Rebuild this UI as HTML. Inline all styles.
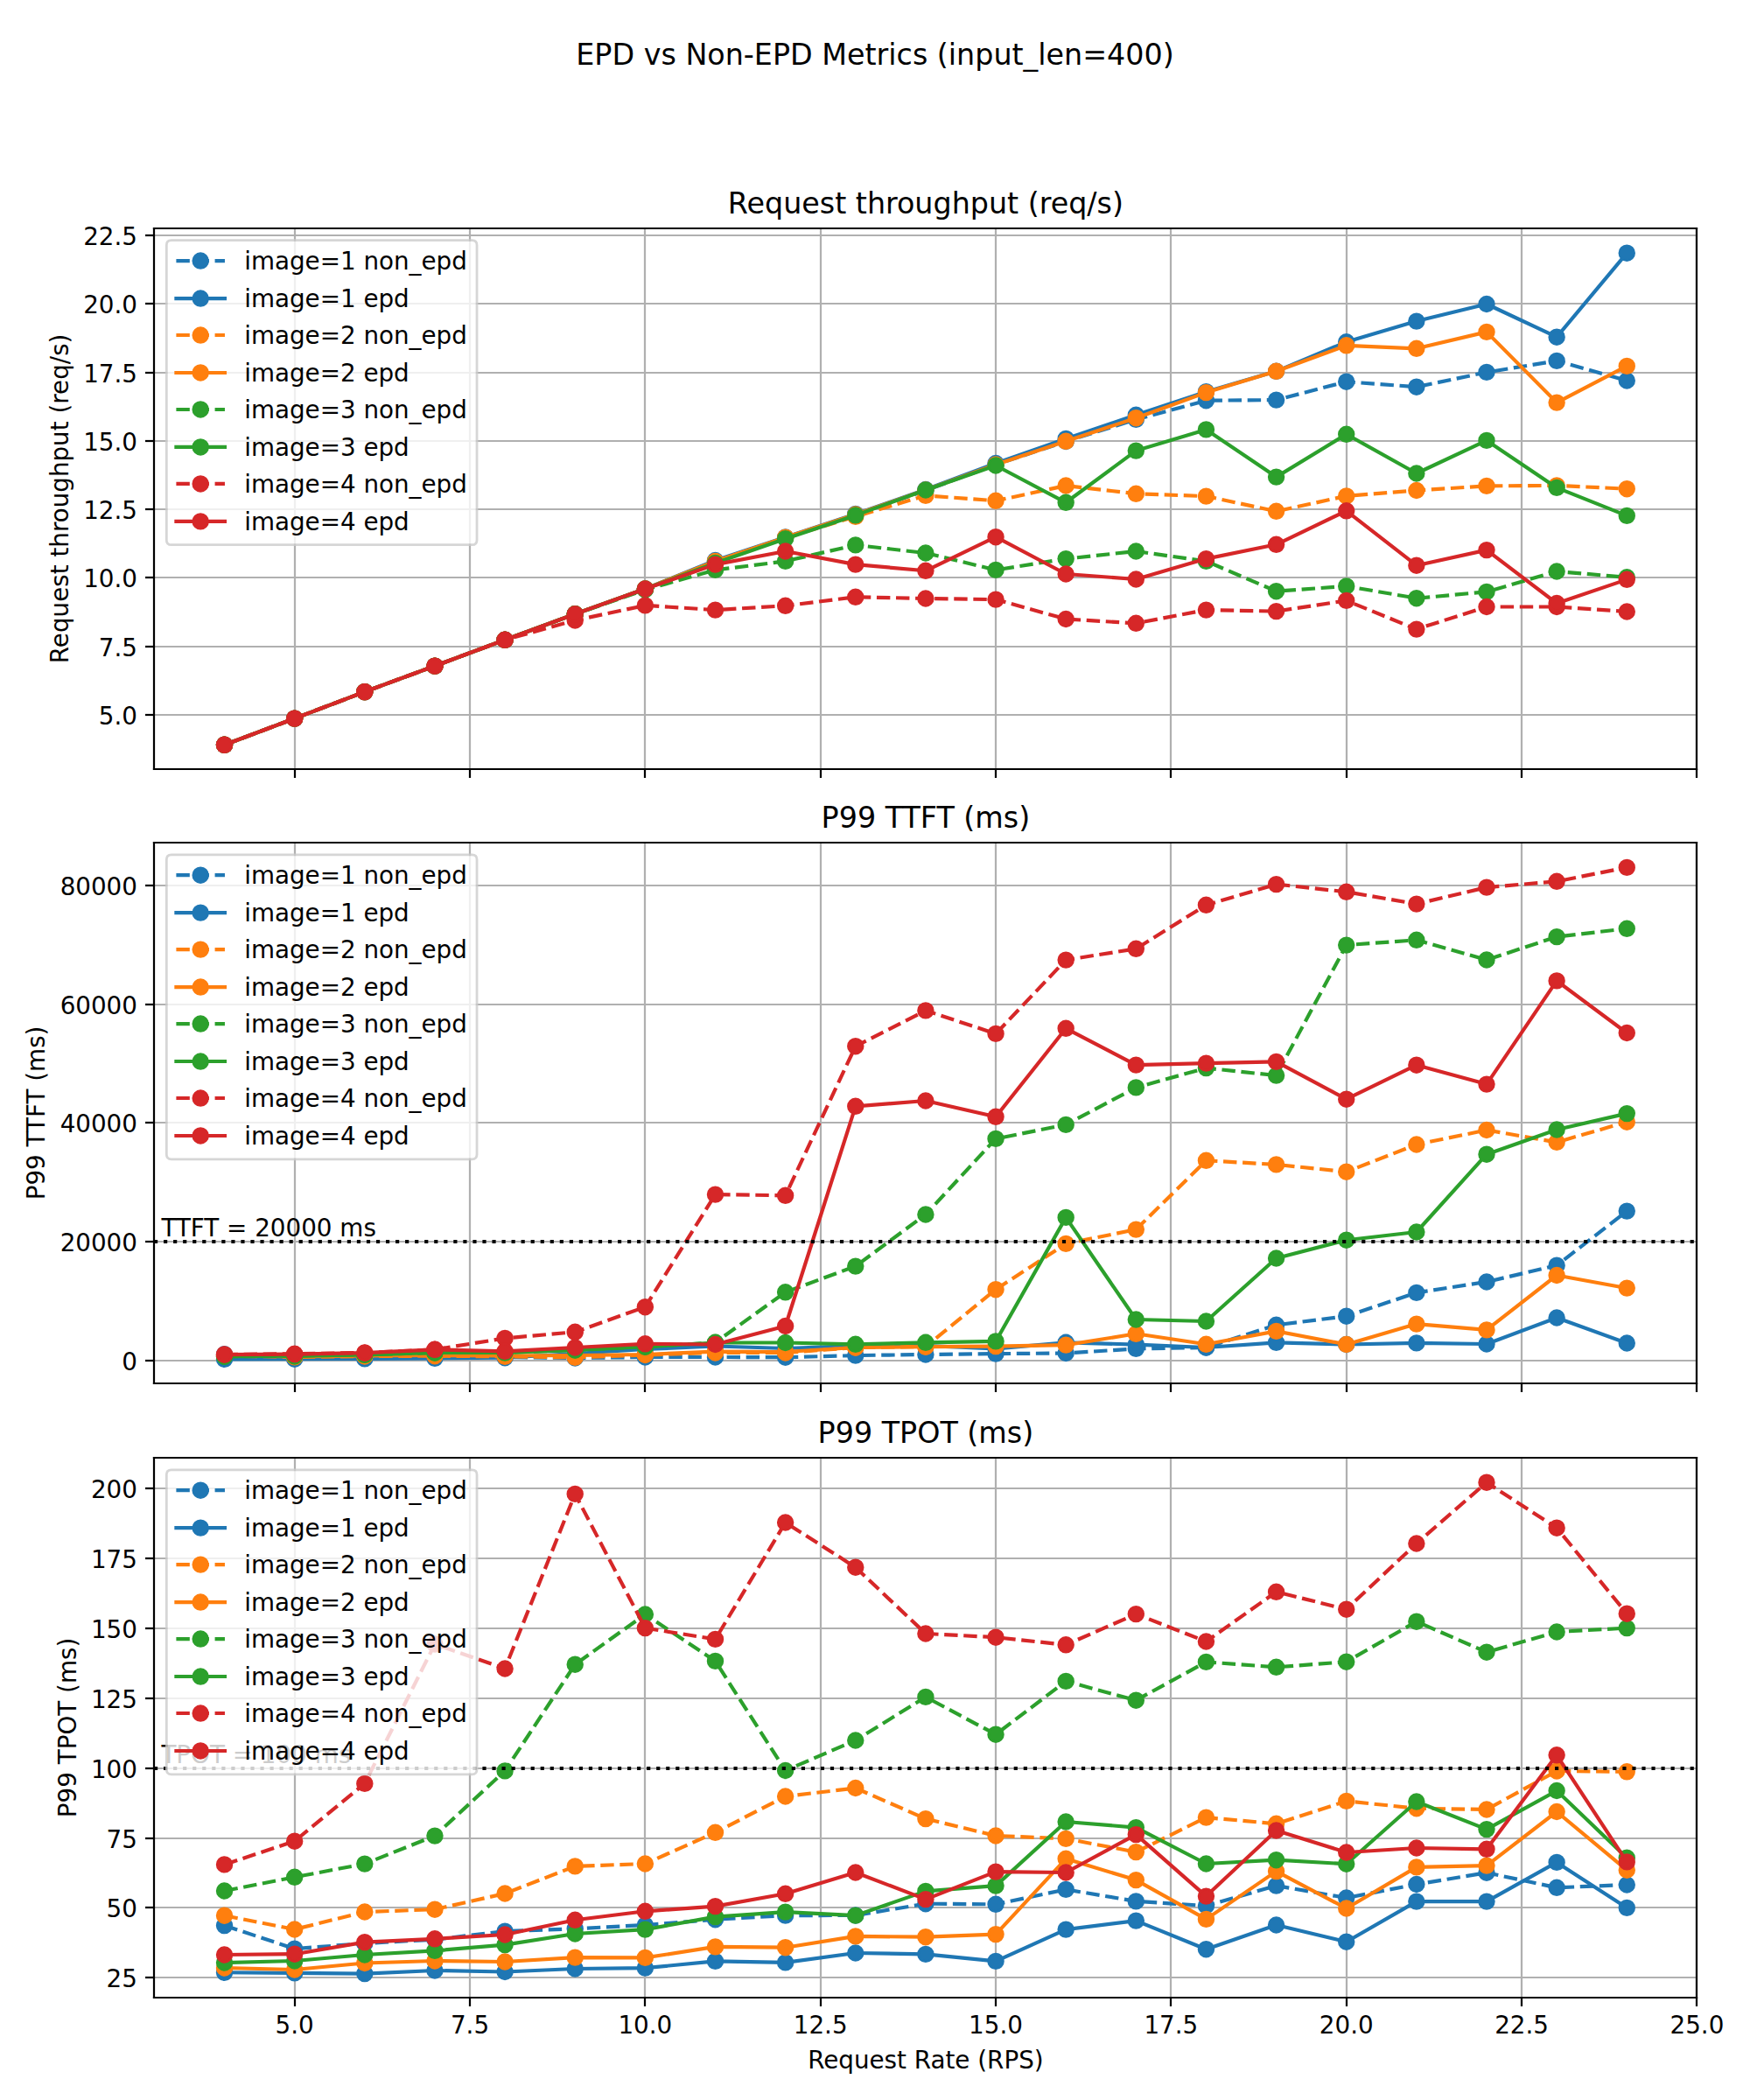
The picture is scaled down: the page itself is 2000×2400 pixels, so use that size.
<!DOCTYPE html>
<html><head><meta charset="utf-8"><title>EPD vs Non-EPD Metrics</title>
<style>html,body{margin:0;padding:0;background:#fff}svg{display:block}text{font-family:"DejaVu Sans","Liberation Sans",sans-serif}</style></head>
<body>
<svg width="2000" height="2400" viewBox="0 0 720 864" version="1.1">
 
 <defs>
  <style type="text/css">*{stroke-linejoin: round; stroke-linecap: butt}</style>
 </defs>
 <g id="figure_1">
  <g id="patch_1">
   <path d="M 0 864 
L 720 864 
L 720 0 
L 0 0 
z
" style="fill: #ffffff"/>
  </g>
  <g id="axes_1">
   <g id="patch_2">
    <path d="M 63.504 316.44 
L 698.184 316.44 
L 698.184 93.888 
L 63.504 93.888 
z
" style="fill: #ffffff"/>
   </g>
   <g id="matplotlib.axis_1">
    <g id="xtick_1">
     <g id="line2d_1">
      <path d="M 121.32 316.44 
L 121.32 93.96 
" clip-path="url(#pe213711e30)" style="fill: none; stroke: #b0b0b0; stroke-width: 0.8; stroke-linecap: square"/>
     </g>
     <g id="line2d_2">
      <defs>
       <path id="m36081f66a5" d="M 0 0 
L 0 3.6 
" style="stroke: #000000; stroke-width: 0.8"/>
      </defs>
      <g>
       <use href="#m36081f66a5" x="121.32" y="316.44" style="stroke: #000000; stroke-width: 0.8"/>
      </g>
     </g>
    </g>
    <g id="xtick_2">
     <g id="line2d_3">
      <path d="M 193.32 316.44 
L 193.32 93.96 
" clip-path="url(#pe213711e30)" style="fill: none; stroke: #b0b0b0; stroke-width: 0.8; stroke-linecap: square"/>
     </g>
     <g id="line2d_4">
      <g>
       <use href="#m36081f66a5" x="193.32" y="316.44" style="stroke: #000000; stroke-width: 0.8"/>
      </g>
     </g>
    </g>
    <g id="xtick_3">
     <g id="line2d_5">
      <path d="M 265.32 316.44 
L 265.32 93.96 
" clip-path="url(#pe213711e30)" style="fill: none; stroke: #b0b0b0; stroke-width: 0.8; stroke-linecap: square"/>
     </g>
     <g id="line2d_6">
      <g>
       <use href="#m36081f66a5" x="265.32" y="316.44" style="stroke: #000000; stroke-width: 0.8"/>
      </g>
     </g>
    </g>
    <g id="xtick_4">
     <g id="line2d_7">
      <path d="M 337.68 316.44 
L 337.68 93.96 
" clip-path="url(#pe213711e30)" style="fill: none; stroke: #b0b0b0; stroke-width: 0.8; stroke-linecap: square"/>
     </g>
     <g id="line2d_8">
      <g>
       <use href="#m36081f66a5" x="337.68" y="316.44" style="stroke: #000000; stroke-width: 0.8"/>
      </g>
     </g>
    </g>
    <g id="xtick_5">
     <g id="line2d_9">
      <path d="M 409.68 316.44 
L 409.68 93.96 
" clip-path="url(#pe213711e30)" style="fill: none; stroke: #b0b0b0; stroke-width: 0.8; stroke-linecap: square"/>
     </g>
     <g id="line2d_10">
      <g>
       <use href="#m36081f66a5" x="409.68" y="316.44" style="stroke: #000000; stroke-width: 0.8"/>
      </g>
     </g>
    </g>
    <g id="xtick_6">
     <g id="line2d_11">
      <path d="M 481.68 316.44 
L 481.68 93.96 
" clip-path="url(#pe213711e30)" style="fill: none; stroke: #b0b0b0; stroke-width: 0.8; stroke-linecap: square"/>
     </g>
     <g id="line2d_12">
      <g>
       <use href="#m36081f66a5" x="481.68" y="316.44" style="stroke: #000000; stroke-width: 0.8"/>
      </g>
     </g>
    </g>
    <g id="xtick_7">
     <g id="line2d_13">
      <path d="M 554.04 316.44 
L 554.04 93.96 
" clip-path="url(#pe213711e30)" style="fill: none; stroke: #b0b0b0; stroke-width: 0.8; stroke-linecap: square"/>
     </g>
     <g id="line2d_14">
      <g>
       <use href="#m36081f66a5" x="554.04" y="316.44" style="stroke: #000000; stroke-width: 0.8"/>
      </g>
     </g>
    </g>
    <g id="xtick_8">
     <g id="line2d_15">
      <path d="M 626.04 316.44 
L 626.04 93.96 
" clip-path="url(#pe213711e30)" style="fill: none; stroke: #b0b0b0; stroke-width: 0.8; stroke-linecap: square"/>
     </g>
     <g id="line2d_16">
      <g>
       <use href="#m36081f66a5" x="626.04" y="316.44" style="stroke: #000000; stroke-width: 0.8"/>
      </g>
     </g>
    </g>
    <g id="xtick_9">
     <g id="line2d_17">
      <path d="M 698.04 316.44 
L 698.04 93.96 
" clip-path="url(#pe213711e30)" style="fill: none; stroke: #b0b0b0; stroke-width: 0.8; stroke-linecap: square"/>
     </g>
     <g id="line2d_18">
      <g>
       <use href="#m36081f66a5" x="698.04" y="316.44" style="stroke: #000000; stroke-width: 0.8"/>
      </g>
     </g>
    </g>
   </g>
   <g id="matplotlib.axis_2">
    <g id="ytick_1">
     <g id="line2d_19">
      <path d="M 63.36 294.12 
L 698.04 294.12 
" clip-path="url(#pe213711e30)" style="fill: none; stroke: #b0b0b0; stroke-width: 0.8; stroke-linecap: square"/>
     </g>
     <g id="line2d_20">
      <defs>
       <path id="m27e57e332f" d="M 0 0 
L -3.6 0 
" style="stroke: #000000; stroke-width: 0.8"/>
      </defs>
      <g>
       <use href="#m27e57e332f" x="63.36" y="294.12" style="stroke: #000000; stroke-width: 0.8"/>
      </g>
     </g>
     <g id="text_1">
      <text style="font-size: 10px; font-family: 'DejaVu Sans', 'Liberation Sans', sans-serif; text-anchor: end" x="56.504" y="298.08">5.0</text>
     </g>
    </g>
    <g id="ytick_2">
     <g id="line2d_21">
      <path d="M 63.36 266.04 
L 698.04 266.04 
" clip-path="url(#pe213711e30)" style="fill: none; stroke: #b0b0b0; stroke-width: 0.8; stroke-linecap: square"/>
     </g>
     <g id="line2d_22">
      <g>
       <use href="#m27e57e332f" x="63.36" y="266.04" style="stroke: #000000; stroke-width: 0.8"/>
      </g>
     </g>
     <g id="text_2">
      <text style="font-size: 10px; font-family: 'DejaVu Sans', 'Liberation Sans', sans-serif; text-anchor: end" x="56.504" y="269.8974">7.5</text>
     </g>
    </g>
    <g id="ytick_3">
     <g id="line2d_23">
      <path d="M 63.36 237.6 
L 698.04 237.6 
" clip-path="url(#pe213711e30)" style="fill: none; stroke: #b0b0b0; stroke-width: 0.8; stroke-linecap: square"/>
     </g>
     <g id="line2d_24">
      <g>
       <use href="#m27e57e332f" x="63.36" y="237.6" style="stroke: #000000; stroke-width: 0.8"/>
      </g>
     </g>
     <g id="text_3">
      <text style="font-size: 10px; font-family: 'DejaVu Sans', 'Liberation Sans', sans-serif; text-anchor: end" x="56.504" y="241.7148">10.0</text>
     </g>
    </g>
    <g id="ytick_4">
     <g id="line2d_25">
      <path d="M 63.36 209.52 
L 698.04 209.52 
" clip-path="url(#pe213711e30)" style="fill: none; stroke: #b0b0b0; stroke-width: 0.8; stroke-linecap: square"/>
     </g>
     <g id="line2d_26">
      <g>
       <use href="#m27e57e332f" x="63.36" y="209.52" style="stroke: #000000; stroke-width: 0.8"/>
      </g>
     </g>
     <g id="text_4">
      <text style="font-size: 10px; font-family: 'DejaVu Sans', 'Liberation Sans', sans-serif; text-anchor: end" x="56.504" y="213.5322">12.5</text>
     </g>
    </g>
    <g id="ytick_5">
     <g id="line2d_27">
      <path d="M 63.36 181.44 
L 698.04 181.44 
" clip-path="url(#pe213711e30)" style="fill: none; stroke: #b0b0b0; stroke-width: 0.8; stroke-linecap: square"/>
     </g>
     <g id="line2d_28">
      <g>
       <use href="#m27e57e332f" x="63.36" y="181.44" style="stroke: #000000; stroke-width: 0.8"/>
      </g>
     </g>
     <g id="text_5">
      <text style="font-size: 10px; font-family: 'DejaVu Sans', 'Liberation Sans', sans-serif; text-anchor: end" x="56.504" y="185.3496">15.0</text>
     </g>
    </g>
    <g id="ytick_6">
     <g id="line2d_29">
      <path d="M 63.36 153.36 
L 698.04 153.36 
" clip-path="url(#pe213711e30)" style="fill: none; stroke: #b0b0b0; stroke-width: 0.8; stroke-linecap: square"/>
     </g>
     <g id="line2d_30">
      <g>
       <use href="#m27e57e332f" x="63.36" y="153.36" style="stroke: #000000; stroke-width: 0.8"/>
      </g>
     </g>
     <g id="text_6">
      <text style="font-size: 10px; font-family: 'DejaVu Sans', 'Liberation Sans', sans-serif; text-anchor: end" x="56.504" y="157.167">17.5</text>
     </g>
    </g>
    <g id="ytick_7">
     <g id="line2d_31">
      <path d="M 63.36 124.92 
L 698.04 124.92 
" clip-path="url(#pe213711e30)" style="fill: none; stroke: #b0b0b0; stroke-width: 0.8; stroke-linecap: square"/>
     </g>
     <g id="line2d_32">
      <g>
       <use href="#m27e57e332f" x="63.36" y="124.92" style="stroke: #000000; stroke-width: 0.8"/>
      </g>
     </g>
     <g id="text_7">
      <text style="font-size: 10px; font-family: 'DejaVu Sans', 'Liberation Sans', sans-serif; text-anchor: end" x="56.504" y="128.9844">20.0</text>
     </g>
    </g>
    <g id="ytick_8">
     <g id="line2d_33">
      <path d="M 63.36 96.84 
L 698.04 96.84 
" clip-path="url(#pe213711e30)" style="fill: none; stroke: #b0b0b0; stroke-width: 0.8; stroke-linecap: square"/>
     </g>
     <g id="line2d_34">
      <g>
       <use href="#m27e57e332f" x="63.36" y="96.84" style="stroke: #000000; stroke-width: 0.8"/>
      </g>
     </g>
     <g id="text_8">
      <text style="font-size: 10px; font-family: 'DejaVu Sans', 'Liberation Sans', sans-serif; text-anchor: end" x="56.504" y="100.8018">22.5</text>
     </g>
    </g>
    <g id="text_9">
     <text style="font-size: 10px; font-family: 'DejaVu Sans', 'Liberation Sans', sans-serif; text-anchor: middle" x="28.024" y="205.164" transform="rotate(-90 28.024 205.164)">Request throughput (req/s)</text>
    </g>
   </g>
   <g id="line2d_35">
    <path d="M 92.353091 306.468 
L 121.202182 295.596 
L 150.051273 284.616 
L 178.900364 273.996 
L 207.749455 263.268 
L 236.598545 252.648 
L 265.447636 242.28 
L 294.296727 230.976 
L 323.145818 221.22 
L 351.994909 211.86 
L 380.844 201.78 
L 409.693091 191.16 
L 438.542182 181.62 
L 467.391273 172.584 
L 496.240364 164.772 
L 525.089455 164.556 
L 553.938545 157.032 
L 582.787636 159.192 
L 611.636727 153.144 
L 640.485818 148.464 
L 669.334909 156.6 
" clip-path="url(#pe213711e30)" style="fill: none; stroke-dasharray: 5.55,2.4; stroke-dashoffset: 0; stroke: #1f77b4; stroke-width: 1.5"/>
    <defs>
     <path id="md79a8c80a0" d="M 0 3 
C 0.795609 3 1.55874 2.683901 2.12132 2.12132 
C 2.683901 1.55874 3 0.795609 3 0 
C 3 -0.795609 2.683901 -1.55874 2.12132 -2.12132 
C 1.55874 -2.683901 0.795609 -3 0 -3 
C -0.795609 -3 -1.55874 -2.683901 -2.12132 -2.12132 
C -2.683901 -1.55874 -3 -0.795609 -3 0 
C -3 0.795609 -2.683901 1.55874 -2.12132 2.12132 
C -1.55874 2.683901 -0.795609 3 0 3 
z
" style="stroke: #1f77b4"/>
    </defs>
    <g clip-path="url(#pe213711e30)">
     <use href="#md79a8c80a0" x="92.353091" y="306.468" style="fill: #1f77b4; stroke: #1f77b4"/>
     <use href="#md79a8c80a0" x="121.202182" y="295.596" style="fill: #1f77b4; stroke: #1f77b4"/>
     <use href="#md79a8c80a0" x="150.051273" y="284.616" style="fill: #1f77b4; stroke: #1f77b4"/>
     <use href="#md79a8c80a0" x="178.900364" y="273.996" style="fill: #1f77b4; stroke: #1f77b4"/>
     <use href="#md79a8c80a0" x="207.749455" y="263.268" style="fill: #1f77b4; stroke: #1f77b4"/>
     <use href="#md79a8c80a0" x="236.598545" y="252.648" style="fill: #1f77b4; stroke: #1f77b4"/>
     <use href="#md79a8c80a0" x="265.447636" y="242.28" style="fill: #1f77b4; stroke: #1f77b4"/>
     <use href="#md79a8c80a0" x="294.296727" y="230.976" style="fill: #1f77b4; stroke: #1f77b4"/>
     <use href="#md79a8c80a0" x="323.145818" y="221.22" style="fill: #1f77b4; stroke: #1f77b4"/>
     <use href="#md79a8c80a0" x="351.994909" y="211.86" style="fill: #1f77b4; stroke: #1f77b4"/>
     <use href="#md79a8c80a0" x="380.844" y="201.78" style="fill: #1f77b4; stroke: #1f77b4"/>
     <use href="#md79a8c80a0" x="409.693091" y="191.16" style="fill: #1f77b4; stroke: #1f77b4"/>
     <use href="#md79a8c80a0" x="438.542182" y="181.62" style="fill: #1f77b4; stroke: #1f77b4"/>
     <use href="#md79a8c80a0" x="467.391273" y="172.584" style="fill: #1f77b4; stroke: #1f77b4"/>
     <use href="#md79a8c80a0" x="496.240364" y="164.772" style="fill: #1f77b4; stroke: #1f77b4"/>
     <use href="#md79a8c80a0" x="525.089455" y="164.556" style="fill: #1f77b4; stroke: #1f77b4"/>
     <use href="#md79a8c80a0" x="553.938545" y="157.032" style="fill: #1f77b4; stroke: #1f77b4"/>
     <use href="#md79a8c80a0" x="582.787636" y="159.192" style="fill: #1f77b4; stroke: #1f77b4"/>
     <use href="#md79a8c80a0" x="611.636727" y="153.144" style="fill: #1f77b4; stroke: #1f77b4"/>
     <use href="#md79a8c80a0" x="640.485818" y="148.464" style="fill: #1f77b4; stroke: #1f77b4"/>
     <use href="#md79a8c80a0" x="669.334909" y="156.6" style="fill: #1f77b4; stroke: #1f77b4"/>
    </g>
   </g>
   <g id="line2d_36">
    <path d="M 92.353091 306.468 
L 121.202182 295.596 
L 150.051273 284.616 
L 178.900364 273.996 
L 207.749455 263.268 
L 236.598545 252.648 
L 265.447636 242.28 
L 294.296727 230.58 
L 323.145818 221.04 
L 351.994909 211.464 
L 380.844 201.42 
L 409.693091 190.62 
L 438.542182 180.504 
L 467.391273 170.748 
L 496.240364 161.172 
L 525.089455 152.748 
L 553.938545 140.688 
L 582.787636 132.156 
L 611.636727 125.1 
L 640.485818 138.672 
L 669.334909 104.112 
" clip-path="url(#pe213711e30)" style="fill: none; stroke: #1f77b4; stroke-width: 1.5; stroke-linecap: square"/>
    <g clip-path="url(#pe213711e30)">
     <use href="#md79a8c80a0" x="92.353091" y="306.468" style="fill: #1f77b4; stroke: #1f77b4"/>
     <use href="#md79a8c80a0" x="121.202182" y="295.596" style="fill: #1f77b4; stroke: #1f77b4"/>
     <use href="#md79a8c80a0" x="150.051273" y="284.616" style="fill: #1f77b4; stroke: #1f77b4"/>
     <use href="#md79a8c80a0" x="178.900364" y="273.996" style="fill: #1f77b4; stroke: #1f77b4"/>
     <use href="#md79a8c80a0" x="207.749455" y="263.268" style="fill: #1f77b4; stroke: #1f77b4"/>
     <use href="#md79a8c80a0" x="236.598545" y="252.648" style="fill: #1f77b4; stroke: #1f77b4"/>
     <use href="#md79a8c80a0" x="265.447636" y="242.28" style="fill: #1f77b4; stroke: #1f77b4"/>
     <use href="#md79a8c80a0" x="294.296727" y="230.58" style="fill: #1f77b4; stroke: #1f77b4"/>
     <use href="#md79a8c80a0" x="323.145818" y="221.04" style="fill: #1f77b4; stroke: #1f77b4"/>
     <use href="#md79a8c80a0" x="351.994909" y="211.464" style="fill: #1f77b4; stroke: #1f77b4"/>
     <use href="#md79a8c80a0" x="380.844" y="201.42" style="fill: #1f77b4; stroke: #1f77b4"/>
     <use href="#md79a8c80a0" x="409.693091" y="190.62" style="fill: #1f77b4; stroke: #1f77b4"/>
     <use href="#md79a8c80a0" x="438.542182" y="180.504" style="fill: #1f77b4; stroke: #1f77b4"/>
     <use href="#md79a8c80a0" x="467.391273" y="170.748" style="fill: #1f77b4; stroke: #1f77b4"/>
     <use href="#md79a8c80a0" x="496.240364" y="161.172" style="fill: #1f77b4; stroke: #1f77b4"/>
     <use href="#md79a8c80a0" x="525.089455" y="152.748" style="fill: #1f77b4; stroke: #1f77b4"/>
     <use href="#md79a8c80a0" x="553.938545" y="140.688" style="fill: #1f77b4; stroke: #1f77b4"/>
     <use href="#md79a8c80a0" x="582.787636" y="132.156" style="fill: #1f77b4; stroke: #1f77b4"/>
     <use href="#md79a8c80a0" x="611.636727" y="125.1" style="fill: #1f77b4; stroke: #1f77b4"/>
     <use href="#md79a8c80a0" x="640.485818" y="138.672" style="fill: #1f77b4; stroke: #1f77b4"/>
     <use href="#md79a8c80a0" x="669.334909" y="104.112" style="fill: #1f77b4; stroke: #1f77b4"/>
    </g>
   </g>
   <g id="line2d_37">
    <path d="M 92.353091 306.468 
L 121.202182 295.596 
L 150.051273 284.616 
L 178.900364 273.996 
L 207.749455 263.268 
L 236.598545 252.648 
L 265.447636 242.28 
L 294.296727 231.048 
L 323.145818 221.256 
L 351.994909 212.508 
L 380.844 203.868 
L 409.693091 206.028 
L 438.542182 199.8 
L 467.391273 203.148 
L 496.240364 204.156 
L 525.089455 210.348 
L 553.938545 204.084 
L 582.787636 201.78 
L 611.636727 199.944 
L 640.485818 199.764 
L 669.334909 201.132 
" clip-path="url(#pe213711e30)" style="fill: none; stroke-dasharray: 5.55,2.4; stroke-dashoffset: 0; stroke: #ff7f0e; stroke-width: 1.5"/>
    <defs>
     <path id="mdc11204883" d="M 0 3 
C 0.795609 3 1.55874 2.683901 2.12132 2.12132 
C 2.683901 1.55874 3 0.795609 3 0 
C 3 -0.795609 2.683901 -1.55874 2.12132 -2.12132 
C 1.55874 -2.683901 0.795609 -3 0 -3 
C -0.795609 -3 -1.55874 -2.683901 -2.12132 -2.12132 
C -2.683901 -1.55874 -3 -0.795609 -3 0 
C -3 0.795609 -2.683901 1.55874 -2.12132 2.12132 
C -1.55874 2.683901 -0.795609 3 0 3 
z
" style="stroke: #ff7f0e"/>
    </defs>
    <g clip-path="url(#pe213711e30)">
     <use href="#mdc11204883" x="92.353091" y="306.468" style="fill: #ff7f0e; stroke: #ff7f0e"/>
     <use href="#mdc11204883" x="121.202182" y="295.596" style="fill: #ff7f0e; stroke: #ff7f0e"/>
     <use href="#mdc11204883" x="150.051273" y="284.616" style="fill: #ff7f0e; stroke: #ff7f0e"/>
     <use href="#mdc11204883" x="178.900364" y="273.996" style="fill: #ff7f0e; stroke: #ff7f0e"/>
     <use href="#mdc11204883" x="207.749455" y="263.268" style="fill: #ff7f0e; stroke: #ff7f0e"/>
     <use href="#mdc11204883" x="236.598545" y="252.648" style="fill: #ff7f0e; stroke: #ff7f0e"/>
     <use href="#mdc11204883" x="265.447636" y="242.28" style="fill: #ff7f0e; stroke: #ff7f0e"/>
     <use href="#mdc11204883" x="294.296727" y="231.048" style="fill: #ff7f0e; stroke: #ff7f0e"/>
     <use href="#mdc11204883" x="323.145818" y="221.256" style="fill: #ff7f0e; stroke: #ff7f0e"/>
     <use href="#mdc11204883" x="351.994909" y="212.508" style="fill: #ff7f0e; stroke: #ff7f0e"/>
     <use href="#mdc11204883" x="380.844" y="203.868" style="fill: #ff7f0e; stroke: #ff7f0e"/>
     <use href="#mdc11204883" x="409.693091" y="206.028" style="fill: #ff7f0e; stroke: #ff7f0e"/>
     <use href="#mdc11204883" x="438.542182" y="199.8" style="fill: #ff7f0e; stroke: #ff7f0e"/>
     <use href="#mdc11204883" x="467.391273" y="203.148" style="fill: #ff7f0e; stroke: #ff7f0e"/>
     <use href="#mdc11204883" x="496.240364" y="204.156" style="fill: #ff7f0e; stroke: #ff7f0e"/>
     <use href="#mdc11204883" x="525.089455" y="210.348" style="fill: #ff7f0e; stroke: #ff7f0e"/>
     <use href="#mdc11204883" x="553.938545" y="204.084" style="fill: #ff7f0e; stroke: #ff7f0e"/>
     <use href="#mdc11204883" x="582.787636" y="201.78" style="fill: #ff7f0e; stroke: #ff7f0e"/>
     <use href="#mdc11204883" x="611.636727" y="199.944" style="fill: #ff7f0e; stroke: #ff7f0e"/>
     <use href="#mdc11204883" x="640.485818" y="199.764" style="fill: #ff7f0e; stroke: #ff7f0e"/>
     <use href="#mdc11204883" x="669.334909" y="201.132" style="fill: #ff7f0e; stroke: #ff7f0e"/>
    </g>
   </g>
   <g id="line2d_38">
    <path d="M 92.353091 306.468 
L 121.202182 295.596 
L 150.051273 284.616 
L 178.900364 273.996 
L 207.749455 263.268 
L 236.598545 252.648 
L 265.447636 242.28 
L 294.296727 230.94 
L 323.145818 221.112 
L 351.994909 211.68 
L 380.844 201.6 
L 409.693091 191.16 
L 438.542182 181.548 
L 467.391273 171.972 
L 496.240364 161.496 
L 525.089455 152.748 
L 553.938545 142.128 
L 582.787636 143.388 
L 611.636727 136.584 
L 640.485818 165.636 
L 669.334909 150.624 
" clip-path="url(#pe213711e30)" style="fill: none; stroke: #ff7f0e; stroke-width: 1.5; stroke-linecap: square"/>
    <g clip-path="url(#pe213711e30)">
     <use href="#mdc11204883" x="92.353091" y="306.468" style="fill: #ff7f0e; stroke: #ff7f0e"/>
     <use href="#mdc11204883" x="121.202182" y="295.596" style="fill: #ff7f0e; stroke: #ff7f0e"/>
     <use href="#mdc11204883" x="150.051273" y="284.616" style="fill: #ff7f0e; stroke: #ff7f0e"/>
     <use href="#mdc11204883" x="178.900364" y="273.996" style="fill: #ff7f0e; stroke: #ff7f0e"/>
     <use href="#mdc11204883" x="207.749455" y="263.268" style="fill: #ff7f0e; stroke: #ff7f0e"/>
     <use href="#mdc11204883" x="236.598545" y="252.648" style="fill: #ff7f0e; stroke: #ff7f0e"/>
     <use href="#mdc11204883" x="265.447636" y="242.28" style="fill: #ff7f0e; stroke: #ff7f0e"/>
     <use href="#mdc11204883" x="294.296727" y="230.94" style="fill: #ff7f0e; stroke: #ff7f0e"/>
     <use href="#mdc11204883" x="323.145818" y="221.112" style="fill: #ff7f0e; stroke: #ff7f0e"/>
     <use href="#mdc11204883" x="351.994909" y="211.68" style="fill: #ff7f0e; stroke: #ff7f0e"/>
     <use href="#mdc11204883" x="380.844" y="201.6" style="fill: #ff7f0e; stroke: #ff7f0e"/>
     <use href="#mdc11204883" x="409.693091" y="191.16" style="fill: #ff7f0e; stroke: #ff7f0e"/>
     <use href="#mdc11204883" x="438.542182" y="181.548" style="fill: #ff7f0e; stroke: #ff7f0e"/>
     <use href="#mdc11204883" x="467.391273" y="171.972" style="fill: #ff7f0e; stroke: #ff7f0e"/>
     <use href="#mdc11204883" x="496.240364" y="161.496" style="fill: #ff7f0e; stroke: #ff7f0e"/>
     <use href="#mdc11204883" x="525.089455" y="152.748" style="fill: #ff7f0e; stroke: #ff7f0e"/>
     <use href="#mdc11204883" x="553.938545" y="142.128" style="fill: #ff7f0e; stroke: #ff7f0e"/>
     <use href="#mdc11204883" x="582.787636" y="143.388" style="fill: #ff7f0e; stroke: #ff7f0e"/>
     <use href="#mdc11204883" x="611.636727" y="136.584" style="fill: #ff7f0e; stroke: #ff7f0e"/>
     <use href="#mdc11204883" x="640.485818" y="165.636" style="fill: #ff7f0e; stroke: #ff7f0e"/>
     <use href="#mdc11204883" x="669.334909" y="150.624" style="fill: #ff7f0e; stroke: #ff7f0e"/>
    </g>
   </g>
   <g id="line2d_39">
    <path d="M 92.353091 306.468 
L 121.202182 295.596 
L 150.051273 284.616 
L 178.900364 273.996 
L 207.749455 263.268 
L 236.598545 252.648 
L 265.447636 242.64 
L 294.296727 234.504 
L 323.145818 230.904 
L 351.994909 224.244 
L 380.844 227.52 
L 409.693091 234.504 
L 438.542182 229.896 
L 467.391273 226.8 
L 496.240364 230.904 
L 525.089455 243.252 
L 553.938545 241.164 
L 582.787636 246.132 
L 611.636727 243.504 
L 640.485818 235.08 
L 669.334909 237.528 
" clip-path="url(#pe213711e30)" style="fill: none; stroke-dasharray: 5.55,2.4; stroke-dashoffset: 0; stroke: #2ca02c; stroke-width: 1.5"/>
    <defs>
     <path id="m254e5fd85e" d="M 0 3 
C 0.795609 3 1.55874 2.683901 2.12132 2.12132 
C 2.683901 1.55874 3 0.795609 3 0 
C 3 -0.795609 2.683901 -1.55874 2.12132 -2.12132 
C 1.55874 -2.683901 0.795609 -3 0 -3 
C -0.795609 -3 -1.55874 -2.683901 -2.12132 -2.12132 
C -2.683901 -1.55874 -3 -0.795609 -3 0 
C -3 0.795609 -2.683901 1.55874 -2.12132 2.12132 
C -1.55874 2.683901 -0.795609 3 0 3 
z
" style="stroke: #2ca02c"/>
    </defs>
    <g clip-path="url(#pe213711e30)">
     <use href="#m254e5fd85e" x="92.353091" y="306.468" style="fill: #2ca02c; stroke: #2ca02c"/>
     <use href="#m254e5fd85e" x="121.202182" y="295.596" style="fill: #2ca02c; stroke: #2ca02c"/>
     <use href="#m254e5fd85e" x="150.051273" y="284.616" style="fill: #2ca02c; stroke: #2ca02c"/>
     <use href="#m254e5fd85e" x="178.900364" y="273.996" style="fill: #2ca02c; stroke: #2ca02c"/>
     <use href="#m254e5fd85e" x="207.749455" y="263.268" style="fill: #2ca02c; stroke: #2ca02c"/>
     <use href="#m254e5fd85e" x="236.598545" y="252.648" style="fill: #2ca02c; stroke: #2ca02c"/>
     <use href="#m254e5fd85e" x="265.447636" y="242.64" style="fill: #2ca02c; stroke: #2ca02c"/>
     <use href="#m254e5fd85e" x="294.296727" y="234.504" style="fill: #2ca02c; stroke: #2ca02c"/>
     <use href="#m254e5fd85e" x="323.145818" y="230.904" style="fill: #2ca02c; stroke: #2ca02c"/>
     <use href="#m254e5fd85e" x="351.994909" y="224.244" style="fill: #2ca02c; stroke: #2ca02c"/>
     <use href="#m254e5fd85e" x="380.844" y="227.52" style="fill: #2ca02c; stroke: #2ca02c"/>
     <use href="#m254e5fd85e" x="409.693091" y="234.504" style="fill: #2ca02c; stroke: #2ca02c"/>
     <use href="#m254e5fd85e" x="438.542182" y="229.896" style="fill: #2ca02c; stroke: #2ca02c"/>
     <use href="#m254e5fd85e" x="467.391273" y="226.8" style="fill: #2ca02c; stroke: #2ca02c"/>
     <use href="#m254e5fd85e" x="496.240364" y="230.904" style="fill: #2ca02c; stroke: #2ca02c"/>
     <use href="#m254e5fd85e" x="525.089455" y="243.252" style="fill: #2ca02c; stroke: #2ca02c"/>
     <use href="#m254e5fd85e" x="553.938545" y="241.164" style="fill: #2ca02c; stroke: #2ca02c"/>
     <use href="#m254e5fd85e" x="582.787636" y="246.132" style="fill: #2ca02c; stroke: #2ca02c"/>
     <use href="#m254e5fd85e" x="611.636727" y="243.504" style="fill: #2ca02c; stroke: #2ca02c"/>
     <use href="#m254e5fd85e" x="640.485818" y="235.08" style="fill: #2ca02c; stroke: #2ca02c"/>
     <use href="#m254e5fd85e" x="669.334909" y="237.528" style="fill: #2ca02c; stroke: #2ca02c"/>
    </g>
   </g>
   <g id="line2d_40">
    <path d="M 92.353091 306.468 
L 121.202182 295.596 
L 150.051273 284.616 
L 178.900364 273.996 
L 207.749455 263.268 
L 236.598545 252.648 
L 265.447636 242.28 
L 294.296727 231.66 
L 323.145818 221.652 
L 351.994909 212.004 
L 380.844 201.6 
L 409.693091 191.52 
L 438.542182 206.748 
L 467.391273 185.436 
L 496.240364 176.724 
L 525.089455 196.236 
L 553.938545 178.668 
L 582.787636 194.76 
L 611.636727 181.224 
L 640.485818 200.664 
L 669.334909 212.184 
" clip-path="url(#pe213711e30)" style="fill: none; stroke: #2ca02c; stroke-width: 1.5; stroke-linecap: square"/>
    <g clip-path="url(#pe213711e30)">
     <use href="#m254e5fd85e" x="92.353091" y="306.468" style="fill: #2ca02c; stroke: #2ca02c"/>
     <use href="#m254e5fd85e" x="121.202182" y="295.596" style="fill: #2ca02c; stroke: #2ca02c"/>
     <use href="#m254e5fd85e" x="150.051273" y="284.616" style="fill: #2ca02c; stroke: #2ca02c"/>
     <use href="#m254e5fd85e" x="178.900364" y="273.996" style="fill: #2ca02c; stroke: #2ca02c"/>
     <use href="#m254e5fd85e" x="207.749455" y="263.268" style="fill: #2ca02c; stroke: #2ca02c"/>
     <use href="#m254e5fd85e" x="236.598545" y="252.648" style="fill: #2ca02c; stroke: #2ca02c"/>
     <use href="#m254e5fd85e" x="265.447636" y="242.28" style="fill: #2ca02c; stroke: #2ca02c"/>
     <use href="#m254e5fd85e" x="294.296727" y="231.66" style="fill: #2ca02c; stroke: #2ca02c"/>
     <use href="#m254e5fd85e" x="323.145818" y="221.652" style="fill: #2ca02c; stroke: #2ca02c"/>
     <use href="#m254e5fd85e" x="351.994909" y="212.004" style="fill: #2ca02c; stroke: #2ca02c"/>
     <use href="#m254e5fd85e" x="380.844" y="201.6" style="fill: #2ca02c; stroke: #2ca02c"/>
     <use href="#m254e5fd85e" x="409.693091" y="191.52" style="fill: #2ca02c; stroke: #2ca02c"/>
     <use href="#m254e5fd85e" x="438.542182" y="206.748" style="fill: #2ca02c; stroke: #2ca02c"/>
     <use href="#m254e5fd85e" x="467.391273" y="185.436" style="fill: #2ca02c; stroke: #2ca02c"/>
     <use href="#m254e5fd85e" x="496.240364" y="176.724" style="fill: #2ca02c; stroke: #2ca02c"/>
     <use href="#m254e5fd85e" x="525.089455" y="196.236" style="fill: #2ca02c; stroke: #2ca02c"/>
     <use href="#m254e5fd85e" x="553.938545" y="178.668" style="fill: #2ca02c; stroke: #2ca02c"/>
     <use href="#m254e5fd85e" x="582.787636" y="194.76" style="fill: #2ca02c; stroke: #2ca02c"/>
     <use href="#m254e5fd85e" x="611.636727" y="181.224" style="fill: #2ca02c; stroke: #2ca02c"/>
     <use href="#m254e5fd85e" x="640.485818" y="200.664" style="fill: #2ca02c; stroke: #2ca02c"/>
     <use href="#m254e5fd85e" x="669.334909" y="212.184" style="fill: #2ca02c; stroke: #2ca02c"/>
    </g>
   </g>
   <g id="line2d_41">
    <path d="M 92.353091 306.468 
L 121.202182 295.596 
L 150.051273 284.616 
L 178.900364 273.996 
L 207.749455 263.268 
L 236.598545 255.24 
L 265.447636 249.084 
L 294.296727 250.956 
L 323.145818 249.228 
L 351.994909 245.628 
L 380.844 246.24 
L 409.693091 246.636 
L 438.542182 254.7 
L 467.391273 256.428 
L 496.240364 250.956 
L 525.089455 251.496 
L 553.938545 247.104 
L 582.787636 258.876 
L 611.636727 249.66 
L 640.485818 249.66 
L 669.334909 251.64 
" clip-path="url(#pe213711e30)" style="fill: none; stroke-dasharray: 5.55,2.4; stroke-dashoffset: 0; stroke: #d62728; stroke-width: 1.5"/>
    <defs>
     <path id="m993c00af96" d="M 0 3 
C 0.795609 3 1.55874 2.683901 2.12132 2.12132 
C 2.683901 1.55874 3 0.795609 3 0 
C 3 -0.795609 2.683901 -1.55874 2.12132 -2.12132 
C 1.55874 -2.683901 0.795609 -3 0 -3 
C -0.795609 -3 -1.55874 -2.683901 -2.12132 -2.12132 
C -2.683901 -1.55874 -3 -0.795609 -3 0 
C -3 0.795609 -2.683901 1.55874 -2.12132 2.12132 
C -1.55874 2.683901 -0.795609 3 0 3 
z
" style="stroke: #d62728"/>
    </defs>
    <g clip-path="url(#pe213711e30)">
     <use href="#m993c00af96" x="92.353091" y="306.468" style="fill: #d62728; stroke: #d62728"/>
     <use href="#m993c00af96" x="121.202182" y="295.596" style="fill: #d62728; stroke: #d62728"/>
     <use href="#m993c00af96" x="150.051273" y="284.616" style="fill: #d62728; stroke: #d62728"/>
     <use href="#m993c00af96" x="178.900364" y="273.996" style="fill: #d62728; stroke: #d62728"/>
     <use href="#m993c00af96" x="207.749455" y="263.268" style="fill: #d62728; stroke: #d62728"/>
     <use href="#m993c00af96" x="236.598545" y="255.24" style="fill: #d62728; stroke: #d62728"/>
     <use href="#m993c00af96" x="265.447636" y="249.084" style="fill: #d62728; stroke: #d62728"/>
     <use href="#m993c00af96" x="294.296727" y="250.956" style="fill: #d62728; stroke: #d62728"/>
     <use href="#m993c00af96" x="323.145818" y="249.228" style="fill: #d62728; stroke: #d62728"/>
     <use href="#m993c00af96" x="351.994909" y="245.628" style="fill: #d62728; stroke: #d62728"/>
     <use href="#m993c00af96" x="380.844" y="246.24" style="fill: #d62728; stroke: #d62728"/>
     <use href="#m993c00af96" x="409.693091" y="246.636" style="fill: #d62728; stroke: #d62728"/>
     <use href="#m993c00af96" x="438.542182" y="254.7" style="fill: #d62728; stroke: #d62728"/>
     <use href="#m993c00af96" x="467.391273" y="256.428" style="fill: #d62728; stroke: #d62728"/>
     <use href="#m993c00af96" x="496.240364" y="250.956" style="fill: #d62728; stroke: #d62728"/>
     <use href="#m993c00af96" x="525.089455" y="251.496" style="fill: #d62728; stroke: #d62728"/>
     <use href="#m993c00af96" x="553.938545" y="247.104" style="fill: #d62728; stroke: #d62728"/>
     <use href="#m993c00af96" x="582.787636" y="258.876" style="fill: #d62728; stroke: #d62728"/>
     <use href="#m993c00af96" x="611.636727" y="249.66" style="fill: #d62728; stroke: #d62728"/>
     <use href="#m993c00af96" x="640.485818" y="249.66" style="fill: #d62728; stroke: #d62728"/>
     <use href="#m993c00af96" x="669.334909" y="251.64" style="fill: #d62728; stroke: #d62728"/>
    </g>
   </g>
   <g id="line2d_42">
    <path d="M 92.353091 306.468 
L 121.202182 295.596 
L 150.051273 284.616 
L 178.900364 273.996 
L 207.749455 263.268 
L 236.598545 252.648 
L 265.447636 242.28 
L 294.296727 232.236 
L 323.145818 226.8 
L 351.994909 232.236 
L 380.844 234.828 
L 409.693091 220.932 
L 438.542182 236.16 
L 467.391273 238.32 
L 496.240364 229.896 
L 525.089455 224.028 
L 553.938545 210.168 
L 582.787636 232.632 
L 611.636727 226.296 
L 640.485818 248.22 
L 669.334909 238.428 
" clip-path="url(#pe213711e30)" style="fill: none; stroke: #d62728; stroke-width: 1.5; stroke-linecap: square"/>
    <g clip-path="url(#pe213711e30)">
     <use href="#m993c00af96" x="92.353091" y="306.468" style="fill: #d62728; stroke: #d62728"/>
     <use href="#m993c00af96" x="121.202182" y="295.596" style="fill: #d62728; stroke: #d62728"/>
     <use href="#m993c00af96" x="150.051273" y="284.616" style="fill: #d62728; stroke: #d62728"/>
     <use href="#m993c00af96" x="178.900364" y="273.996" style="fill: #d62728; stroke: #d62728"/>
     <use href="#m993c00af96" x="207.749455" y="263.268" style="fill: #d62728; stroke: #d62728"/>
     <use href="#m993c00af96" x="236.598545" y="252.648" style="fill: #d62728; stroke: #d62728"/>
     <use href="#m993c00af96" x="265.447636" y="242.28" style="fill: #d62728; stroke: #d62728"/>
     <use href="#m993c00af96" x="294.296727" y="232.236" style="fill: #d62728; stroke: #d62728"/>
     <use href="#m993c00af96" x="323.145818" y="226.8" style="fill: #d62728; stroke: #d62728"/>
     <use href="#m993c00af96" x="351.994909" y="232.236" style="fill: #d62728; stroke: #d62728"/>
     <use href="#m993c00af96" x="380.844" y="234.828" style="fill: #d62728; stroke: #d62728"/>
     <use href="#m993c00af96" x="409.693091" y="220.932" style="fill: #d62728; stroke: #d62728"/>
     <use href="#m993c00af96" x="438.542182" y="236.16" style="fill: #d62728; stroke: #d62728"/>
     <use href="#m993c00af96" x="467.391273" y="238.32" style="fill: #d62728; stroke: #d62728"/>
     <use href="#m993c00af96" x="496.240364" y="229.896" style="fill: #d62728; stroke: #d62728"/>
     <use href="#m993c00af96" x="525.089455" y="224.028" style="fill: #d62728; stroke: #d62728"/>
     <use href="#m993c00af96" x="553.938545" y="210.168" style="fill: #d62728; stroke: #d62728"/>
     <use href="#m993c00af96" x="582.787636" y="232.632" style="fill: #d62728; stroke: #d62728"/>
     <use href="#m993c00af96" x="611.636727" y="226.296" style="fill: #d62728; stroke: #d62728"/>
     <use href="#m993c00af96" x="640.485818" y="248.22" style="fill: #d62728; stroke: #d62728"/>
     <use href="#m993c00af96" x="669.334909" y="238.428" style="fill: #d62728; stroke: #d62728"/>
    </g>
   </g>
   <g id="patch_3">
    <path d="M 63.36 316.44 
L 63.36 93.96 
" style="fill: none; stroke: #000000; stroke-width: 0.8; stroke-linejoin: miter; stroke-linecap: square"/>
   </g>
   <g id="patch_4">
    <path d="M 698.04 316.44 
L 698.04 93.96 
" style="fill: none; stroke: #000000; stroke-width: 0.8; stroke-linejoin: miter; stroke-linecap: square"/>
   </g>
   <g id="patch_5">
    <path d="M 63.36 316.44 
L 698.04 316.44 
" style="fill: none; stroke: #000000; stroke-width: 0.8; stroke-linejoin: miter; stroke-linecap: square"/>
   </g>
   <g id="patch_6">
    <path d="M 63.36 93.96 
L 698.04 93.96 
" style="fill: none; stroke: #000000; stroke-width: 0.8; stroke-linejoin: miter; stroke-linecap: square"/>
   </g>
   <g id="text_10">
    <text style="font-size: 12px; font-family: 'DejaVu Sans', 'Liberation Sans', sans-serif; text-anchor: middle" x="380.844" y="87.888">Request throughput (req/s)</text>
   </g>
   <g id="legend_1">
    <g id="patch_7">
     <path d="M 70.504 224.178 
L 194.214 224.178 
Q 196.214 224.178 196.214 222.178 
L 196.214 100.888 
Q 196.214 98.888 194.214 98.888 
L 70.504 98.888 
Q 68.504 98.888 68.504 100.888 
L 68.504 222.178 
Q 68.504 224.178 70.504 224.178 
z
" style="fill: #ffffff; opacity: 0.8; stroke: #cccccc; stroke-linejoin: miter"/>
    </g>
    <g id="line2d_43">
     <path d="M 72.504 107.308 
L 82.504 107.308 
L 92.504 107.308 
" style="fill: none; stroke-dasharray: 5.55,2.4; stroke-dashoffset: 0; stroke: #1f77b4; stroke-width: 1.5"/>
     <g>
      <use href="#md79a8c80a0" x="82.504" y="107.308" style="fill: #1f77b4; stroke: #1f77b4"/>
     </g>
    </g>
    <g id="text_11">
     <text style="font-size: 10px; font-family: 'DejaVu Sans', 'Liberation Sans', sans-serif; text-anchor: start" x="100.504" y="110.808">image=1 non_epd</text>
    </g>
    <g id="line2d_44">
     <path d="M 72.504 122.778 
L 82.504 122.778 
L 92.504 122.778 
" style="fill: none; stroke: #1f77b4; stroke-width: 1.5; stroke-linecap: square"/>
     <g>
      <use href="#md79a8c80a0" x="82.504" y="122.778" style="fill: #1f77b4; stroke: #1f77b4"/>
     </g>
    </g>
    <g id="text_12">
     <text style="font-size: 10px; font-family: 'DejaVu Sans', 'Liberation Sans', sans-serif; text-anchor: start" x="100.504" y="126.278">image=1 epd</text>
    </g>
    <g id="line2d_45">
     <path d="M 72.504 137.888 
L 82.504 137.888 
L 92.504 137.888 
" style="fill: none; stroke-dasharray: 5.55,2.4; stroke-dashoffset: 0; stroke: #ff7f0e; stroke-width: 1.5"/>
     <g>
      <use href="#mdc11204883" x="82.504" y="137.888" style="fill: #ff7f0e; stroke: #ff7f0e"/>
     </g>
    </g>
    <g id="text_13">
     <text style="font-size: 10px; font-family: 'DejaVu Sans', 'Liberation Sans', sans-serif; text-anchor: start" x="100.504" y="141.388">image=2 non_epd</text>
    </g>
    <g id="line2d_46">
     <path d="M 72.504 153.358 
L 82.504 153.358 
L 92.504 153.358 
" style="fill: none; stroke: #ff7f0e; stroke-width: 1.5; stroke-linecap: square"/>
     <g>
      <use href="#mdc11204883" x="82.504" y="153.358" style="fill: #ff7f0e; stroke: #ff7f0e"/>
     </g>
    </g>
    <g id="text_14">
     <text style="font-size: 10px; font-family: 'DejaVu Sans', 'Liberation Sans', sans-serif; text-anchor: start" x="100.504" y="156.858">image=2 epd</text>
    </g>
    <g id="line2d_47">
     <path d="M 72.504 168.468 
L 82.504 168.468 
L 92.504 168.468 
" style="fill: none; stroke-dasharray: 5.55,2.4; stroke-dashoffset: 0; stroke: #2ca02c; stroke-width: 1.5"/>
     <g>
      <use href="#m254e5fd85e" x="82.504" y="168.468" style="fill: #2ca02c; stroke: #2ca02c"/>
     </g>
    </g>
    <g id="text_15">
     <text style="font-size: 10px; font-family: 'DejaVu Sans', 'Liberation Sans', sans-serif; text-anchor: start" x="100.504" y="171.968">image=3 non_epd</text>
    </g>
    <g id="line2d_48">
     <path d="M 72.504 183.938 
L 82.504 183.938 
L 92.504 183.938 
" style="fill: none; stroke: #2ca02c; stroke-width: 1.5; stroke-linecap: square"/>
     <g>
      <use href="#m254e5fd85e" x="82.504" y="183.938" style="fill: #2ca02c; stroke: #2ca02c"/>
     </g>
    </g>
    <g id="text_16">
     <text style="font-size: 10px; font-family: 'DejaVu Sans', 'Liberation Sans', sans-serif; text-anchor: start" x="100.504" y="187.438">image=3 epd</text>
    </g>
    <g id="line2d_49">
     <path d="M 72.504 199.048 
L 82.504 199.048 
L 92.504 199.048 
" style="fill: none; stroke-dasharray: 5.55,2.4; stroke-dashoffset: 0; stroke: #d62728; stroke-width: 1.5"/>
     <g>
      <use href="#m993c00af96" x="82.504" y="199.048" style="fill: #d62728; stroke: #d62728"/>
     </g>
    </g>
    <g id="text_17">
     <text style="font-size: 10px; font-family: 'DejaVu Sans', 'Liberation Sans', sans-serif; text-anchor: start" x="100.504" y="202.548">image=4 non_epd</text>
    </g>
    <g id="line2d_50">
     <path d="M 72.504 214.518 
L 82.504 214.518 
L 92.504 214.518 
" style="fill: none; stroke: #d62728; stroke-width: 1.5; stroke-linecap: square"/>
     <g>
      <use href="#m993c00af96" x="82.504" y="214.518" style="fill: #d62728; stroke: #d62728"/>
     </g>
    </g>
    <g id="text_18">
     <text style="font-size: 10px; font-family: 'DejaVu Sans', 'Liberation Sans', sans-serif; text-anchor: start" x="100.504" y="218.018">image=4 epd</text>
    </g>
   </g>
  </g>
  <g id="axes_2">
   <g id="patch_8">
    <path d="M 63.504 569.16 
L 698.184 569.16 
L 698.184 346.644 
L 63.504 346.644 
z
" style="fill: #ffffff"/>
   </g>
   <g id="matplotlib.axis_3">
    <g id="xtick_10">
     <g id="line2d_51">
      <path d="M 121.32 569.16 
L 121.32 346.68 
" clip-path="url(#p00f0d204f8)" style="fill: none; stroke: #b0b0b0; stroke-width: 0.8; stroke-linecap: square"/>
     </g>
     <g id="line2d_52">
      <g>
       <use href="#m36081f66a5" x="121.32" y="569.16" style="stroke: #000000; stroke-width: 0.8"/>
      </g>
     </g>
    </g>
    <g id="xtick_11">
     <g id="line2d_53">
      <path d="M 193.32 569.16 
L 193.32 346.68 
" clip-path="url(#p00f0d204f8)" style="fill: none; stroke: #b0b0b0; stroke-width: 0.8; stroke-linecap: square"/>
     </g>
     <g id="line2d_54">
      <g>
       <use href="#m36081f66a5" x="193.32" y="569.16" style="stroke: #000000; stroke-width: 0.8"/>
      </g>
     </g>
    </g>
    <g id="xtick_12">
     <g id="line2d_55">
      <path d="M 265.32 569.16 
L 265.32 346.68 
" clip-path="url(#p00f0d204f8)" style="fill: none; stroke: #b0b0b0; stroke-width: 0.8; stroke-linecap: square"/>
     </g>
     <g id="line2d_56">
      <g>
       <use href="#m36081f66a5" x="265.32" y="569.16" style="stroke: #000000; stroke-width: 0.8"/>
      </g>
     </g>
    </g>
    <g id="xtick_13">
     <g id="line2d_57">
      <path d="M 337.68 569.16 
L 337.68 346.68 
" clip-path="url(#p00f0d204f8)" style="fill: none; stroke: #b0b0b0; stroke-width: 0.8; stroke-linecap: square"/>
     </g>
     <g id="line2d_58">
      <g>
       <use href="#m36081f66a5" x="337.68" y="569.16" style="stroke: #000000; stroke-width: 0.8"/>
      </g>
     </g>
    </g>
    <g id="xtick_14">
     <g id="line2d_59">
      <path d="M 409.68 569.16 
L 409.68 346.68 
" clip-path="url(#p00f0d204f8)" style="fill: none; stroke: #b0b0b0; stroke-width: 0.8; stroke-linecap: square"/>
     </g>
     <g id="line2d_60">
      <g>
       <use href="#m36081f66a5" x="409.68" y="569.16" style="stroke: #000000; stroke-width: 0.8"/>
      </g>
     </g>
    </g>
    <g id="xtick_15">
     <g id="line2d_61">
      <path d="M 481.68 569.16 
L 481.68 346.68 
" clip-path="url(#p00f0d204f8)" style="fill: none; stroke: #b0b0b0; stroke-width: 0.8; stroke-linecap: square"/>
     </g>
     <g id="line2d_62">
      <g>
       <use href="#m36081f66a5" x="481.68" y="569.16" style="stroke: #000000; stroke-width: 0.8"/>
      </g>
     </g>
    </g>
    <g id="xtick_16">
     <g id="line2d_63">
      <path d="M 554.04 569.16 
L 554.04 346.68 
" clip-path="url(#p00f0d204f8)" style="fill: none; stroke: #b0b0b0; stroke-width: 0.8; stroke-linecap: square"/>
     </g>
     <g id="line2d_64">
      <g>
       <use href="#m36081f66a5" x="554.04" y="569.16" style="stroke: #000000; stroke-width: 0.8"/>
      </g>
     </g>
    </g>
    <g id="xtick_17">
     <g id="line2d_65">
      <path d="M 626.04 569.16 
L 626.04 346.68 
" clip-path="url(#p00f0d204f8)" style="fill: none; stroke: #b0b0b0; stroke-width: 0.8; stroke-linecap: square"/>
     </g>
     <g id="line2d_66">
      <g>
       <use href="#m36081f66a5" x="626.04" y="569.16" style="stroke: #000000; stroke-width: 0.8"/>
      </g>
     </g>
    </g>
    <g id="xtick_18">
     <g id="line2d_67">
      <path d="M 698.04 569.16 
L 698.04 346.68 
" clip-path="url(#p00f0d204f8)" style="fill: none; stroke: #b0b0b0; stroke-width: 0.8; stroke-linecap: square"/>
     </g>
     <g id="line2d_68">
      <g>
       <use href="#m36081f66a5" x="698.04" y="569.16" style="stroke: #000000; stroke-width: 0.8"/>
      </g>
     </g>
    </g>
   </g>
   <g id="matplotlib.axis_4">
    <g id="ytick_9">
     <g id="line2d_69">
      <path d="M 63.36 559.8 
L 698.04 559.8 
" clip-path="url(#p00f0d204f8)" style="fill: none; stroke: #b0b0b0; stroke-width: 0.8; stroke-linecap: square"/>
     </g>
     <g id="line2d_70">
      <g>
       <use href="#m27e57e332f" x="63.36" y="559.8" style="stroke: #000000; stroke-width: 0.8"/>
      </g>
     </g>
     <g id="text_19">
      <text style="font-size: 10px; font-family: 'DejaVu Sans', 'Liberation Sans', sans-serif; text-anchor: end" x="56.504" y="563.796">0</text>
     </g>
    </g>
    <g id="ytick_10">
     <g id="line2d_71">
      <path d="M 63.36 510.84 
L 698.04 510.84 
" clip-path="url(#p00f0d204f8)" style="fill: none; stroke: #b0b0b0; stroke-width: 0.8; stroke-linecap: square"/>
     </g>
     <g id="line2d_72">
      <g>
       <use href="#m27e57e332f" x="63.36" y="510.84" style="stroke: #000000; stroke-width: 0.8"/>
      </g>
     </g>
     <g id="text_20">
      <text style="font-size: 10px; font-family: 'DejaVu Sans', 'Liberation Sans', sans-serif; text-anchor: end" x="56.504" y="514.8864">20000</text>
     </g>
    </g>
    <g id="ytick_11">
     <g id="line2d_73">
      <path d="M 63.36 461.88 
L 698.04 461.88 
" clip-path="url(#p00f0d204f8)" style="fill: none; stroke: #b0b0b0; stroke-width: 0.8; stroke-linecap: square"/>
     </g>
     <g id="line2d_74">
      <g>
       <use href="#m27e57e332f" x="63.36" y="461.88" style="stroke: #000000; stroke-width: 0.8"/>
      </g>
     </g>
     <g id="text_21">
      <text style="font-size: 10px; font-family: 'DejaVu Sans', 'Liberation Sans', sans-serif; text-anchor: end" x="56.504" y="465.9768">40000</text>
     </g>
    </g>
    <g id="ytick_12">
     <g id="line2d_75">
      <path d="M 63.36 413.28 
L 698.04 413.28 
" clip-path="url(#p00f0d204f8)" style="fill: none; stroke: #b0b0b0; stroke-width: 0.8; stroke-linecap: square"/>
     </g>
     <g id="line2d_76">
      <g>
       <use href="#m27e57e332f" x="63.36" y="413.28" style="stroke: #000000; stroke-width: 0.8"/>
      </g>
     </g>
     <g id="text_22">
      <text style="font-size: 10px; font-family: 'DejaVu Sans', 'Liberation Sans', sans-serif; text-anchor: end" x="56.504" y="417.0672">60000</text>
     </g>
    </g>
    <g id="ytick_13">
     <g id="line2d_77">
      <path d="M 63.36 364.32 
L 698.04 364.32 
" clip-path="url(#p00f0d204f8)" style="fill: none; stroke: #b0b0b0; stroke-width: 0.8; stroke-linecap: square"/>
     </g>
     <g id="line2d_78">
      <g>
       <use href="#m27e57e332f" x="63.36" y="364.32" style="stroke: #000000; stroke-width: 0.8"/>
      </g>
     </g>
     <g id="text_23">
      <text style="font-size: 10px; font-family: 'DejaVu Sans', 'Liberation Sans', sans-serif; text-anchor: end" x="56.504" y="368.1576">80000</text>
     </g>
    </g>
    <g id="text_24">
     <text style="font-size: 10px; font-family: 'DejaVu Sans', 'Liberation Sans', sans-serif; text-anchor: middle" x="18.439" y="457.902" transform="rotate(-90 18.439 457.902)">P99 TTFT (ms)</text>
    </g>
   </g>
   <g id="line2d_79">
    <path d="M 92.353091 557.208 
L 121.202182 558.54 
L 150.051273 558.18 
L 178.900364 558 
L 207.749455 558.36 
L 236.598545 558.72 
L 265.447636 558.36 
L 294.296727 558.36 
L 323.145818 558.432 
L 351.994909 557.676 
L 380.844 557.28 
L 409.693091 556.956 
L 438.542182 556.74 
L 467.391273 554.904 
L 496.240364 554.4 
L 525.089455 545.148 
L 553.938545 541.512 
L 582.787636 531.864 
L 611.636727 527.4 
L 640.485818 520.632 
L 669.334909 498.276 
" clip-path="url(#p00f0d204f8)" style="fill: none; stroke-dasharray: 5.55,2.4; stroke-dashoffset: 0; stroke: #1f77b4; stroke-width: 1.5"/>
    <g clip-path="url(#p00f0d204f8)">
     <use href="#md79a8c80a0" x="92.353091" y="557.208" style="fill: #1f77b4; stroke: #1f77b4"/>
     <use href="#md79a8c80a0" x="121.202182" y="558.54" style="fill: #1f77b4; stroke: #1f77b4"/>
     <use href="#md79a8c80a0" x="150.051273" y="558.18" style="fill: #1f77b4; stroke: #1f77b4"/>
     <use href="#md79a8c80a0" x="178.900364" y="558" style="fill: #1f77b4; stroke: #1f77b4"/>
     <use href="#md79a8c80a0" x="207.749455" y="558.36" style="fill: #1f77b4; stroke: #1f77b4"/>
     <use href="#md79a8c80a0" x="236.598545" y="558.72" style="fill: #1f77b4; stroke: #1f77b4"/>
     <use href="#md79a8c80a0" x="265.447636" y="558.36" style="fill: #1f77b4; stroke: #1f77b4"/>
     <use href="#md79a8c80a0" x="294.296727" y="558.36" style="fill: #1f77b4; stroke: #1f77b4"/>
     <use href="#md79a8c80a0" x="323.145818" y="558.432" style="fill: #1f77b4; stroke: #1f77b4"/>
     <use href="#md79a8c80a0" x="351.994909" y="557.676" style="fill: #1f77b4; stroke: #1f77b4"/>
     <use href="#md79a8c80a0" x="380.844" y="557.28" style="fill: #1f77b4; stroke: #1f77b4"/>
     <use href="#md79a8c80a0" x="409.693091" y="556.956" style="fill: #1f77b4; stroke: #1f77b4"/>
     <use href="#md79a8c80a0" x="438.542182" y="556.74" style="fill: #1f77b4; stroke: #1f77b4"/>
     <use href="#md79a8c80a0" x="467.391273" y="554.904" style="fill: #1f77b4; stroke: #1f77b4"/>
     <use href="#md79a8c80a0" x="496.240364" y="554.4" style="fill: #1f77b4; stroke: #1f77b4"/>
     <use href="#md79a8c80a0" x="525.089455" y="545.148" style="fill: #1f77b4; stroke: #1f77b4"/>
     <use href="#md79a8c80a0" x="553.938545" y="541.512" style="fill: #1f77b4; stroke: #1f77b4"/>
     <use href="#md79a8c80a0" x="582.787636" y="531.864" style="fill: #1f77b4; stroke: #1f77b4"/>
     <use href="#md79a8c80a0" x="611.636727" y="527.4" style="fill: #1f77b4; stroke: #1f77b4"/>
     <use href="#md79a8c80a0" x="640.485818" y="520.632" style="fill: #1f77b4; stroke: #1f77b4"/>
     <use href="#md79a8c80a0" x="669.334909" y="498.276" style="fill: #1f77b4; stroke: #1f77b4"/>
    </g>
   </g>
   <g id="line2d_80">
    <path d="M 92.353091 559.224 
L 121.202182 559.152 
L 150.051273 559.044 
L 178.900364 558.828 
L 207.749455 558.612 
L 236.598545 556.92 
L 265.447636 555.12 
L 294.296727 553.86 
L 323.145818 554.76 
L 351.994909 553.68 
L 380.844 553.68 
L 409.693091 554.904 
L 438.542182 552.348 
L 467.391273 553.176 
L 496.240364 554.4 
L 525.089455 552.348 
L 553.938545 553.14 
L 582.787636 552.564 
L 611.636727 552.96 
L 640.485818 542.16 
L 669.334909 552.6 
" clip-path="url(#p00f0d204f8)" style="fill: none; stroke: #1f77b4; stroke-width: 1.5; stroke-linecap: square"/>
    <g clip-path="url(#p00f0d204f8)">
     <use href="#md79a8c80a0" x="92.353091" y="559.224" style="fill: #1f77b4; stroke: #1f77b4"/>
     <use href="#md79a8c80a0" x="121.202182" y="559.152" style="fill: #1f77b4; stroke: #1f77b4"/>
     <use href="#md79a8c80a0" x="150.051273" y="559.044" style="fill: #1f77b4; stroke: #1f77b4"/>
     <use href="#md79a8c80a0" x="178.900364" y="558.828" style="fill: #1f77b4; stroke: #1f77b4"/>
     <use href="#md79a8c80a0" x="207.749455" y="558.612" style="fill: #1f77b4; stroke: #1f77b4"/>
     <use href="#md79a8c80a0" x="236.598545" y="556.92" style="fill: #1f77b4; stroke: #1f77b4"/>
     <use href="#md79a8c80a0" x="265.447636" y="555.12" style="fill: #1f77b4; stroke: #1f77b4"/>
     <use href="#md79a8c80a0" x="294.296727" y="553.86" style="fill: #1f77b4; stroke: #1f77b4"/>
     <use href="#md79a8c80a0" x="323.145818" y="554.76" style="fill: #1f77b4; stroke: #1f77b4"/>
     <use href="#md79a8c80a0" x="351.994909" y="553.68" style="fill: #1f77b4; stroke: #1f77b4"/>
     <use href="#md79a8c80a0" x="380.844" y="553.68" style="fill: #1f77b4; stroke: #1f77b4"/>
     <use href="#md79a8c80a0" x="409.693091" y="554.904" style="fill: #1f77b4; stroke: #1f77b4"/>
     <use href="#md79a8c80a0" x="438.542182" y="552.348" style="fill: #1f77b4; stroke: #1f77b4"/>
     <use href="#md79a8c80a0" x="467.391273" y="553.176" style="fill: #1f77b4; stroke: #1f77b4"/>
     <use href="#md79a8c80a0" x="496.240364" y="554.4" style="fill: #1f77b4; stroke: #1f77b4"/>
     <use href="#md79a8c80a0" x="525.089455" y="552.348" style="fill: #1f77b4; stroke: #1f77b4"/>
     <use href="#md79a8c80a0" x="553.938545" y="553.14" style="fill: #1f77b4; stroke: #1f77b4"/>
     <use href="#md79a8c80a0" x="582.787636" y="552.564" style="fill: #1f77b4; stroke: #1f77b4"/>
     <use href="#md79a8c80a0" x="611.636727" y="552.96" style="fill: #1f77b4; stroke: #1f77b4"/>
     <use href="#md79a8c80a0" x="640.485818" y="542.16" style="fill: #1f77b4; stroke: #1f77b4"/>
     <use href="#md79a8c80a0" x="669.334909" y="552.6" style="fill: #1f77b4; stroke: #1f77b4"/>
    </g>
   </g>
   <g id="line2d_81">
    <path d="M 92.353091 557.82 
L 121.202182 558.324 
L 150.051273 558 
L 178.900364 557.892 
L 207.749455 558.108 
L 236.598545 558.504 
L 265.447636 557.46 
L 294.296727 556.56 
L 323.145818 556.56 
L 351.994909 554.4 
L 380.844 554.04 
L 409.693091 530.532 
L 438.542182 511.704 
L 467.391273 505.836 
L 496.240364 477.468 
L 525.089455 479.124 
L 553.938545 482.112 
L 582.787636 470.88 
L 611.636727 464.94 
L 640.485818 469.944 
L 669.334909 461.592 
" clip-path="url(#p00f0d204f8)" style="fill: none; stroke-dasharray: 5.55,2.4; stroke-dashoffset: 0; stroke: #ff7f0e; stroke-width: 1.5"/>
    <g clip-path="url(#p00f0d204f8)">
     <use href="#mdc11204883" x="92.353091" y="557.82" style="fill: #ff7f0e; stroke: #ff7f0e"/>
     <use href="#mdc11204883" x="121.202182" y="558.324" style="fill: #ff7f0e; stroke: #ff7f0e"/>
     <use href="#mdc11204883" x="150.051273" y="558" style="fill: #ff7f0e; stroke: #ff7f0e"/>
     <use href="#mdc11204883" x="178.900364" y="557.892" style="fill: #ff7f0e; stroke: #ff7f0e"/>
     <use href="#mdc11204883" x="207.749455" y="558.108" style="fill: #ff7f0e; stroke: #ff7f0e"/>
     <use href="#mdc11204883" x="236.598545" y="558.504" style="fill: #ff7f0e; stroke: #ff7f0e"/>
     <use href="#mdc11204883" x="265.447636" y="557.46" style="fill: #ff7f0e; stroke: #ff7f0e"/>
     <use href="#mdc11204883" x="294.296727" y="556.56" style="fill: #ff7f0e; stroke: #ff7f0e"/>
     <use href="#mdc11204883" x="323.145818" y="556.56" style="fill: #ff7f0e; stroke: #ff7f0e"/>
     <use href="#mdc11204883" x="351.994909" y="554.4" style="fill: #ff7f0e; stroke: #ff7f0e"/>
     <use href="#mdc11204883" x="380.844" y="554.04" style="fill: #ff7f0e; stroke: #ff7f0e"/>
     <use href="#mdc11204883" x="409.693091" y="530.532" style="fill: #ff7f0e; stroke: #ff7f0e"/>
     <use href="#mdc11204883" x="438.542182" y="511.704" style="fill: #ff7f0e; stroke: #ff7f0e"/>
     <use href="#mdc11204883" x="467.391273" y="505.836" style="fill: #ff7f0e; stroke: #ff7f0e"/>
     <use href="#mdc11204883" x="496.240364" y="477.468" style="fill: #ff7f0e; stroke: #ff7f0e"/>
     <use href="#mdc11204883" x="525.089455" y="479.124" style="fill: #ff7f0e; stroke: #ff7f0e"/>
     <use href="#mdc11204883" x="553.938545" y="482.112" style="fill: #ff7f0e; stroke: #ff7f0e"/>
     <use href="#mdc11204883" x="582.787636" y="470.88" style="fill: #ff7f0e; stroke: #ff7f0e"/>
     <use href="#mdc11204883" x="611.636727" y="464.94" style="fill: #ff7f0e; stroke: #ff7f0e"/>
     <use href="#mdc11204883" x="640.485818" y="469.944" style="fill: #ff7f0e; stroke: #ff7f0e"/>
     <use href="#mdc11204883" x="669.334909" y="461.592" style="fill: #ff7f0e; stroke: #ff7f0e"/>
    </g>
   </g>
   <g id="line2d_82">
    <path d="M 92.353091 557.748 
L 121.202182 558.18 
L 150.051273 557.82 
L 178.900364 557.64 
L 207.749455 557.82 
L 236.598545 557.64 
L 265.447636 557.28 
L 294.296727 556.056 
L 323.145818 556.2 
L 351.994909 554.4 
L 380.844 554.076 
L 409.693091 553.896 
L 438.542182 553.356 
L 467.391273 548.748 
L 496.240364 553.068 
L 525.089455 547.704 
L 553.938545 553.14 
L 582.787636 544.716 
L 611.636727 547.164 
L 640.485818 524.7 
L 669.334909 529.956 
" clip-path="url(#p00f0d204f8)" style="fill: none; stroke: #ff7f0e; stroke-width: 1.5; stroke-linecap: square"/>
    <g clip-path="url(#p00f0d204f8)">
     <use href="#mdc11204883" x="92.353091" y="557.748" style="fill: #ff7f0e; stroke: #ff7f0e"/>
     <use href="#mdc11204883" x="121.202182" y="558.18" style="fill: #ff7f0e; stroke: #ff7f0e"/>
     <use href="#mdc11204883" x="150.051273" y="557.82" style="fill: #ff7f0e; stroke: #ff7f0e"/>
     <use href="#mdc11204883" x="178.900364" y="557.64" style="fill: #ff7f0e; stroke: #ff7f0e"/>
     <use href="#mdc11204883" x="207.749455" y="557.82" style="fill: #ff7f0e; stroke: #ff7f0e"/>
     <use href="#mdc11204883" x="236.598545" y="557.64" style="fill: #ff7f0e; stroke: #ff7f0e"/>
     <use href="#mdc11204883" x="265.447636" y="557.28" style="fill: #ff7f0e; stroke: #ff7f0e"/>
     <use href="#mdc11204883" x="294.296727" y="556.056" style="fill: #ff7f0e; stroke: #ff7f0e"/>
     <use href="#mdc11204883" x="323.145818" y="556.2" style="fill: #ff7f0e; stroke: #ff7f0e"/>
     <use href="#mdc11204883" x="351.994909" y="554.4" style="fill: #ff7f0e; stroke: #ff7f0e"/>
     <use href="#mdc11204883" x="380.844" y="554.076" style="fill: #ff7f0e; stroke: #ff7f0e"/>
     <use href="#mdc11204883" x="409.693091" y="553.896" style="fill: #ff7f0e; stroke: #ff7f0e"/>
     <use href="#mdc11204883" x="438.542182" y="553.356" style="fill: #ff7f0e; stroke: #ff7f0e"/>
     <use href="#mdc11204883" x="467.391273" y="548.748" style="fill: #ff7f0e; stroke: #ff7f0e"/>
     <use href="#mdc11204883" x="496.240364" y="553.068" style="fill: #ff7f0e; stroke: #ff7f0e"/>
     <use href="#mdc11204883" x="525.089455" y="547.704" style="fill: #ff7f0e; stroke: #ff7f0e"/>
     <use href="#mdc11204883" x="553.938545" y="553.14" style="fill: #ff7f0e; stroke: #ff7f0e"/>
     <use href="#mdc11204883" x="582.787636" y="544.716" style="fill: #ff7f0e; stroke: #ff7f0e"/>
     <use href="#mdc11204883" x="611.636727" y="547.164" style="fill: #ff7f0e; stroke: #ff7f0e"/>
     <use href="#mdc11204883" x="640.485818" y="524.7" style="fill: #ff7f0e; stroke: #ff7f0e"/>
     <use href="#mdc11204883" x="669.334909" y="529.956" style="fill: #ff7f0e; stroke: #ff7f0e"/>
    </g>
   </g>
   <g id="line2d_83">
    <path d="M 92.353091 558.072 
L 121.202182 557.892 
L 150.051273 557.388 
L 178.900364 556.56 
L 207.749455 556.488 
L 236.598545 555.48 
L 265.447636 554.112 
L 294.296727 552.348 
L 323.145818 531.648 
L 351.994909 520.956 
L 380.844 499.68 
L 409.693091 468.504 
L 438.542182 462.744 
L 467.391273 447.444 
L 496.240364 439.416 
L 525.089455 442.476 
L 553.938545 388.836 
L 582.787636 386.748 
L 611.636727 394.92 
L 640.485818 385.416 
L 669.334909 382.068 
" clip-path="url(#p00f0d204f8)" style="fill: none; stroke-dasharray: 5.55,2.4; stroke-dashoffset: 0; stroke: #2ca02c; stroke-width: 1.5"/>
    <g clip-path="url(#p00f0d204f8)">
     <use href="#m254e5fd85e" x="92.353091" y="558.072" style="fill: #2ca02c; stroke: #2ca02c"/>
     <use href="#m254e5fd85e" x="121.202182" y="557.892" style="fill: #2ca02c; stroke: #2ca02c"/>
     <use href="#m254e5fd85e" x="150.051273" y="557.388" style="fill: #2ca02c; stroke: #2ca02c"/>
     <use href="#m254e5fd85e" x="178.900364" y="556.56" style="fill: #2ca02c; stroke: #2ca02c"/>
     <use href="#m254e5fd85e" x="207.749455" y="556.488" style="fill: #2ca02c; stroke: #2ca02c"/>
     <use href="#m254e5fd85e" x="236.598545" y="555.48" style="fill: #2ca02c; stroke: #2ca02c"/>
     <use href="#m254e5fd85e" x="265.447636" y="554.112" style="fill: #2ca02c; stroke: #2ca02c"/>
     <use href="#m254e5fd85e" x="294.296727" y="552.348" style="fill: #2ca02c; stroke: #2ca02c"/>
     <use href="#m254e5fd85e" x="323.145818" y="531.648" style="fill: #2ca02c; stroke: #2ca02c"/>
     <use href="#m254e5fd85e" x="351.994909" y="520.956" style="fill: #2ca02c; stroke: #2ca02c"/>
     <use href="#m254e5fd85e" x="380.844" y="499.68" style="fill: #2ca02c; stroke: #2ca02c"/>
     <use href="#m254e5fd85e" x="409.693091" y="468.504" style="fill: #2ca02c; stroke: #2ca02c"/>
     <use href="#m254e5fd85e" x="438.542182" y="462.744" style="fill: #2ca02c; stroke: #2ca02c"/>
     <use href="#m254e5fd85e" x="467.391273" y="447.444" style="fill: #2ca02c; stroke: #2ca02c"/>
     <use href="#m254e5fd85e" x="496.240364" y="439.416" style="fill: #2ca02c; stroke: #2ca02c"/>
     <use href="#m254e5fd85e" x="525.089455" y="442.476" style="fill: #2ca02c; stroke: #2ca02c"/>
     <use href="#m254e5fd85e" x="553.938545" y="388.836" style="fill: #2ca02c; stroke: #2ca02c"/>
     <use href="#m254e5fd85e" x="582.787636" y="386.748" style="fill: #2ca02c; stroke: #2ca02c"/>
     <use href="#m254e5fd85e" x="611.636727" y="394.92" style="fill: #2ca02c; stroke: #2ca02c"/>
     <use href="#m254e5fd85e" x="640.485818" y="385.416" style="fill: #2ca02c; stroke: #2ca02c"/>
     <use href="#m254e5fd85e" x="669.334909" y="382.068" style="fill: #2ca02c; stroke: #2ca02c"/>
    </g>
   </g>
   <g id="line2d_84">
    <path d="M 92.353091 558.072 
L 121.202182 557.892 
L 150.051273 557.388 
L 178.900364 556.56 
L 207.749455 556.488 
L 236.598545 555.444 
L 265.447636 554.112 
L 294.296727 552.42 
L 323.145818 552.42 
L 351.994909 553.068 
L 380.844 552.348 
L 409.693091 551.844 
L 438.542182 500.904 
L 467.391273 542.88 
L 496.240364 543.6 
L 525.089455 517.68 
L 553.938545 510.192 
L 582.787636 506.88 
L 611.636727 474.912 
L 640.485818 464.76 
L 669.334909 458.136 
" clip-path="url(#p00f0d204f8)" style="fill: none; stroke: #2ca02c; stroke-width: 1.5; stroke-linecap: square"/>
    <g clip-path="url(#p00f0d204f8)">
     <use href="#m254e5fd85e" x="92.353091" y="558.072" style="fill: #2ca02c; stroke: #2ca02c"/>
     <use href="#m254e5fd85e" x="121.202182" y="557.892" style="fill: #2ca02c; stroke: #2ca02c"/>
     <use href="#m254e5fd85e" x="150.051273" y="557.388" style="fill: #2ca02c; stroke: #2ca02c"/>
     <use href="#m254e5fd85e" x="178.900364" y="556.56" style="fill: #2ca02c; stroke: #2ca02c"/>
     <use href="#m254e5fd85e" x="207.749455" y="556.488" style="fill: #2ca02c; stroke: #2ca02c"/>
     <use href="#m254e5fd85e" x="236.598545" y="555.444" style="fill: #2ca02c; stroke: #2ca02c"/>
     <use href="#m254e5fd85e" x="265.447636" y="554.112" style="fill: #2ca02c; stroke: #2ca02c"/>
     <use href="#m254e5fd85e" x="294.296727" y="552.42" style="fill: #2ca02c; stroke: #2ca02c"/>
     <use href="#m254e5fd85e" x="323.145818" y="552.42" style="fill: #2ca02c; stroke: #2ca02c"/>
     <use href="#m254e5fd85e" x="351.994909" y="553.068" style="fill: #2ca02c; stroke: #2ca02c"/>
     <use href="#m254e5fd85e" x="380.844" y="552.348" style="fill: #2ca02c; stroke: #2ca02c"/>
     <use href="#m254e5fd85e" x="409.693091" y="551.844" style="fill: #2ca02c; stroke: #2ca02c"/>
     <use href="#m254e5fd85e" x="438.542182" y="500.904" style="fill: #2ca02c; stroke: #2ca02c"/>
     <use href="#m254e5fd85e" x="467.391273" y="542.88" style="fill: #2ca02c; stroke: #2ca02c"/>
     <use href="#m254e5fd85e" x="496.240364" y="543.6" style="fill: #2ca02c; stroke: #2ca02c"/>
     <use href="#m254e5fd85e" x="525.089455" y="517.68" style="fill: #2ca02c; stroke: #2ca02c"/>
     <use href="#m254e5fd85e" x="553.938545" y="510.192" style="fill: #2ca02c; stroke: #2ca02c"/>
     <use href="#m254e5fd85e" x="582.787636" y="506.88" style="fill: #2ca02c; stroke: #2ca02c"/>
     <use href="#m254e5fd85e" x="611.636727" y="474.912" style="fill: #2ca02c; stroke: #2ca02c"/>
     <use href="#m254e5fd85e" x="640.485818" y="464.76" style="fill: #2ca02c; stroke: #2ca02c"/>
     <use href="#m254e5fd85e" x="669.334909" y="458.136" style="fill: #2ca02c; stroke: #2ca02c"/>
    </g>
   </g>
   <g id="line2d_85">
    <path d="M 92.353091 557.244 
L 121.202182 557.028 
L 150.051273 556.56 
L 178.900364 555.228 
L 207.749455 550.584 
L 236.598545 548.028 
L 265.447636 537.732 
L 294.296727 491.436 
L 323.145818 491.868 
L 351.994909 430.452 
L 380.844 415.764 
L 409.693091 425.304 
L 438.542182 394.956 
L 467.391273 390.348 
L 496.240364 372.348 
L 525.089455 363.816 
L 553.938545 366.948 
L 582.787636 371.916 
L 611.636727 365.076 
L 640.485818 362.628 
L 669.334909 356.904 
" clip-path="url(#p00f0d204f8)" style="fill: none; stroke-dasharray: 5.55,2.4; stroke-dashoffset: 0; stroke: #d62728; stroke-width: 1.5"/>
    <g clip-path="url(#p00f0d204f8)">
     <use href="#m993c00af96" x="92.353091" y="557.244" style="fill: #d62728; stroke: #d62728"/>
     <use href="#m993c00af96" x="121.202182" y="557.028" style="fill: #d62728; stroke: #d62728"/>
     <use href="#m993c00af96" x="150.051273" y="556.56" style="fill: #d62728; stroke: #d62728"/>
     <use href="#m993c00af96" x="178.900364" y="555.228" style="fill: #d62728; stroke: #d62728"/>
     <use href="#m993c00af96" x="207.749455" y="550.584" style="fill: #d62728; stroke: #d62728"/>
     <use href="#m993c00af96" x="236.598545" y="548.028" style="fill: #d62728; stroke: #d62728"/>
     <use href="#m993c00af96" x="265.447636" y="537.732" style="fill: #d62728; stroke: #d62728"/>
     <use href="#m993c00af96" x="294.296727" y="491.436" style="fill: #d62728; stroke: #d62728"/>
     <use href="#m993c00af96" x="323.145818" y="491.868" style="fill: #d62728; stroke: #d62728"/>
     <use href="#m993c00af96" x="351.994909" y="430.452" style="fill: #d62728; stroke: #d62728"/>
     <use href="#m993c00af96" x="380.844" y="415.764" style="fill: #d62728; stroke: #d62728"/>
     <use href="#m993c00af96" x="409.693091" y="425.304" style="fill: #d62728; stroke: #d62728"/>
     <use href="#m993c00af96" x="438.542182" y="394.956" style="fill: #d62728; stroke: #d62728"/>
     <use href="#m993c00af96" x="467.391273" y="390.348" style="fill: #d62728; stroke: #d62728"/>
     <use href="#m993c00af96" x="496.240364" y="372.348" style="fill: #d62728; stroke: #d62728"/>
     <use href="#m993c00af96" x="525.089455" y="363.816" style="fill: #d62728; stroke: #d62728"/>
     <use href="#m993c00af96" x="553.938545" y="366.948" style="fill: #d62728; stroke: #d62728"/>
     <use href="#m993c00af96" x="582.787636" y="371.916" style="fill: #d62728; stroke: #d62728"/>
     <use href="#m993c00af96" x="611.636727" y="365.076" style="fill: #d62728; stroke: #d62728"/>
     <use href="#m993c00af96" x="640.485818" y="362.628" style="fill: #d62728; stroke: #d62728"/>
     <use href="#m993c00af96" x="669.334909" y="356.904" style="fill: #d62728; stroke: #d62728"/>
    </g>
   </g>
   <g id="line2d_86">
    <path d="M 92.353091 557.316 
L 121.202182 557.136 
L 150.051273 556.632 
L 178.900364 555.228 
L 207.749455 555.948 
L 236.598545 554.4 
L 265.447636 552.888 
L 294.296727 553.14 
L 323.145818 545.58 
L 351.994909 455.148 
L 380.844 452.88 
L 409.693091 459.468 
L 438.542182 423.108 
L 467.391273 438.156 
L 496.240364 437.436 
L 525.089455 436.824 
L 553.938545 452.232 
L 582.787636 438.192 
L 611.636727 446.076 
L 640.485818 403.524 
L 669.334909 424.98 
" clip-path="url(#p00f0d204f8)" style="fill: none; stroke: #d62728; stroke-width: 1.5; stroke-linecap: square"/>
    <g clip-path="url(#p00f0d204f8)">
     <use href="#m993c00af96" x="92.353091" y="557.316" style="fill: #d62728; stroke: #d62728"/>
     <use href="#m993c00af96" x="121.202182" y="557.136" style="fill: #d62728; stroke: #d62728"/>
     <use href="#m993c00af96" x="150.051273" y="556.632" style="fill: #d62728; stroke: #d62728"/>
     <use href="#m993c00af96" x="178.900364" y="555.228" style="fill: #d62728; stroke: #d62728"/>
     <use href="#m993c00af96" x="207.749455" y="555.948" style="fill: #d62728; stroke: #d62728"/>
     <use href="#m993c00af96" x="236.598545" y="554.4" style="fill: #d62728; stroke: #d62728"/>
     <use href="#m993c00af96" x="265.447636" y="552.888" style="fill: #d62728; stroke: #d62728"/>
     <use href="#m993c00af96" x="294.296727" y="553.14" style="fill: #d62728; stroke: #d62728"/>
     <use href="#m993c00af96" x="323.145818" y="545.58" style="fill: #d62728; stroke: #d62728"/>
     <use href="#m993c00af96" x="351.994909" y="455.148" style="fill: #d62728; stroke: #d62728"/>
     <use href="#m993c00af96" x="380.844" y="452.88" style="fill: #d62728; stroke: #d62728"/>
     <use href="#m993c00af96" x="409.693091" y="459.468" style="fill: #d62728; stroke: #d62728"/>
     <use href="#m993c00af96" x="438.542182" y="423.108" style="fill: #d62728; stroke: #d62728"/>
     <use href="#m993c00af96" x="467.391273" y="438.156" style="fill: #d62728; stroke: #d62728"/>
     <use href="#m993c00af96" x="496.240364" y="437.436" style="fill: #d62728; stroke: #d62728"/>
     <use href="#m993c00af96" x="525.089455" y="436.824" style="fill: #d62728; stroke: #d62728"/>
     <use href="#m993c00af96" x="553.938545" y="452.232" style="fill: #d62728; stroke: #d62728"/>
     <use href="#m993c00af96" x="582.787636" y="438.192" style="fill: #d62728; stroke: #d62728"/>
     <use href="#m993c00af96" x="611.636727" y="446.076" style="fill: #d62728; stroke: #d62728"/>
     <use href="#m993c00af96" x="640.485818" y="403.524" style="fill: #d62728; stroke: #d62728"/>
     <use href="#m993c00af96" x="669.334909" y="424.98" style="fill: #d62728; stroke: #d62728"/>
    </g>
   </g>
   <g id="line2d_87">
    <path d="M 63.36 510.84 
L 698.04 510.84 
" clip-path="url(#p00f0d204f8)" style="fill: none; stroke-dasharray: 1.5,2.475; stroke-dashoffset: 0; stroke: #000000; stroke-width: 1.5"/>
   </g>
   <g id="patch_9">
    <path d="M 63.36 569.16 
L 63.36 346.68 
" style="fill: none; stroke: #000000; stroke-width: 0.8; stroke-linejoin: miter; stroke-linecap: square"/>
   </g>
   <g id="patch_10">
    <path d="M 698.04 569.16 
L 698.04 346.68 
" style="fill: none; stroke: #000000; stroke-width: 0.8; stroke-linejoin: miter; stroke-linecap: square"/>
   </g>
   <g id="patch_11">
    <path d="M 63.36 569.16 
L 698.04 569.16 
" style="fill: none; stroke: #000000; stroke-width: 0.8; stroke-linejoin: miter; stroke-linecap: square"/>
   </g>
   <g id="patch_12">
    <path d="M 63.36 346.68 
L 698.04 346.68 
" style="fill: none; stroke: #000000; stroke-width: 0.8; stroke-linejoin: miter; stroke-linecap: square"/>
   </g>
   <g id="text_25">
    <text style="font-size: 10px; font-family: 'DejaVu Sans', 'Liberation Sans', sans-serif; text-anchor: start" x="66.388909" y="508.7664">TTFT = 20000 ms</text>
   </g>
   <g id="text_26">
    <text style="font-size: 12px; font-family: 'DejaVu Sans', 'Liberation Sans', sans-serif; text-anchor: middle" x="380.844" y="340.644">P99 TTFT (ms)</text>
   </g>
   <g id="legend_2">
    <g id="patch_13">
     <path d="M 70.504 476.934 
L 194.214 476.934 
Q 196.214 476.934 196.214 474.934 
L 196.214 353.644 
Q 196.214 351.644 194.214 351.644 
L 70.504 351.644 
Q 68.504 351.644 68.504 353.644 
L 68.504 474.934 
Q 68.504 476.934 70.504 476.934 
z
" style="fill: #ffffff; opacity: 0.8; stroke: #cccccc; stroke-linejoin: miter"/>
    </g>
    <g id="line2d_88">
     <path d="M 72.504 360.064 
L 82.504 360.064 
L 92.504 360.064 
" style="fill: none; stroke-dasharray: 5.55,2.4; stroke-dashoffset: 0; stroke: #1f77b4; stroke-width: 1.5"/>
     <g>
      <use href="#md79a8c80a0" x="82.504" y="360.064" style="fill: #1f77b4; stroke: #1f77b4"/>
     </g>
    </g>
    <g id="text_27">
     <text style="font-size: 10px; font-family: 'DejaVu Sans', 'Liberation Sans', sans-serif; text-anchor: start" x="100.504" y="363.564">image=1 non_epd</text>
    </g>
    <g id="line2d_89">
     <path d="M 72.504 375.534 
L 82.504 375.534 
L 92.504 375.534 
" style="fill: none; stroke: #1f77b4; stroke-width: 1.5; stroke-linecap: square"/>
     <g>
      <use href="#md79a8c80a0" x="82.504" y="375.534" style="fill: #1f77b4; stroke: #1f77b4"/>
     </g>
    </g>
    <g id="text_28">
     <text style="font-size: 10px; font-family: 'DejaVu Sans', 'Liberation Sans', sans-serif; text-anchor: start" x="100.504" y="379.034">image=1 epd</text>
    </g>
    <g id="line2d_90">
     <path d="M 72.504 390.644 
L 82.504 390.644 
L 92.504 390.644 
" style="fill: none; stroke-dasharray: 5.55,2.4; stroke-dashoffset: 0; stroke: #ff7f0e; stroke-width: 1.5"/>
     <g>
      <use href="#mdc11204883" x="82.504" y="390.644" style="fill: #ff7f0e; stroke: #ff7f0e"/>
     </g>
    </g>
    <g id="text_29">
     <text style="font-size: 10px; font-family: 'DejaVu Sans', 'Liberation Sans', sans-serif; text-anchor: start" x="100.504" y="394.144">image=2 non_epd</text>
    </g>
    <g id="line2d_91">
     <path d="M 72.504 406.114 
L 82.504 406.114 
L 92.504 406.114 
" style="fill: none; stroke: #ff7f0e; stroke-width: 1.5; stroke-linecap: square"/>
     <g>
      <use href="#mdc11204883" x="82.504" y="406.114" style="fill: #ff7f0e; stroke: #ff7f0e"/>
     </g>
    </g>
    <g id="text_30">
     <text style="font-size: 10px; font-family: 'DejaVu Sans', 'Liberation Sans', sans-serif; text-anchor: start" x="100.504" y="409.614">image=2 epd</text>
    </g>
    <g id="line2d_92">
     <path d="M 72.504 421.224 
L 82.504 421.224 
L 92.504 421.224 
" style="fill: none; stroke-dasharray: 5.55,2.4; stroke-dashoffset: 0; stroke: #2ca02c; stroke-width: 1.5"/>
     <g>
      <use href="#m254e5fd85e" x="82.504" y="421.224" style="fill: #2ca02c; stroke: #2ca02c"/>
     </g>
    </g>
    <g id="text_31">
     <text style="font-size: 10px; font-family: 'DejaVu Sans', 'Liberation Sans', sans-serif; text-anchor: start" x="100.504" y="424.724">image=3 non_epd</text>
    </g>
    <g id="line2d_93">
     <path d="M 72.504 436.694 
L 82.504 436.694 
L 92.504 436.694 
" style="fill: none; stroke: #2ca02c; stroke-width: 1.5; stroke-linecap: square"/>
     <g>
      <use href="#m254e5fd85e" x="82.504" y="436.694" style="fill: #2ca02c; stroke: #2ca02c"/>
     </g>
    </g>
    <g id="text_32">
     <text style="font-size: 10px; font-family: 'DejaVu Sans', 'Liberation Sans', sans-serif; text-anchor: start" x="100.504" y="440.194">image=3 epd</text>
    </g>
    <g id="line2d_94">
     <path d="M 72.504 451.804 
L 82.504 451.804 
L 92.504 451.804 
" style="fill: none; stroke-dasharray: 5.55,2.4; stroke-dashoffset: 0; stroke: #d62728; stroke-width: 1.5"/>
     <g>
      <use href="#m993c00af96" x="82.504" y="451.804" style="fill: #d62728; stroke: #d62728"/>
     </g>
    </g>
    <g id="text_33">
     <text style="font-size: 10px; font-family: 'DejaVu Sans', 'Liberation Sans', sans-serif; text-anchor: start" x="100.504" y="455.304">image=4 non_epd</text>
    </g>
    <g id="line2d_95">
     <path d="M 72.504 467.274 
L 82.504 467.274 
L 92.504 467.274 
" style="fill: none; stroke: #d62728; stroke-width: 1.5; stroke-linecap: square"/>
     <g>
      <use href="#m993c00af96" x="82.504" y="467.274" style="fill: #d62728; stroke: #d62728"/>
     </g>
    </g>
    <g id="text_34">
     <text style="font-size: 10px; font-family: 'DejaVu Sans', 'Liberation Sans', sans-serif; text-anchor: start" x="100.504" y="470.774">image=4 epd</text>
    </g>
   </g>
  </g>
  <g id="axes_3">
   <g id="patch_14">
    <path d="M 63.504 821.88 
L 698.184 821.88 
L 698.184 599.724 
L 63.504 599.724 
z
" style="fill: #ffffff"/>
   </g>
   <g id="matplotlib.axis_5">
    <g id="xtick_19">
     <g id="line2d_96">
      <path d="M 121.32 821.88 
L 121.32 599.76 
" clip-path="url(#p6971afbf80)" style="fill: none; stroke: #b0b0b0; stroke-width: 0.8; stroke-linecap: square"/>
     </g>
     <g id="line2d_97">
      <g>
       <use href="#m36081f66a5" x="121.32" y="821.88" style="stroke: #000000; stroke-width: 0.8"/>
      </g>
     </g>
     <g id="text_35">
      <text style="font-size: 10px; font-family: 'DejaVu Sans', 'Liberation Sans', sans-serif; text-anchor: middle" x="121.202182" y="836.8">5.0</text>
     </g>
    </g>
    <g id="xtick_20">
     <g id="line2d_98">
      <path d="M 193.32 821.88 
L 193.32 599.76 
" clip-path="url(#p6971afbf80)" style="fill: none; stroke: #b0b0b0; stroke-width: 0.8; stroke-linecap: square"/>
     </g>
     <g id="line2d_99">
      <g>
       <use href="#m36081f66a5" x="193.32" y="821.88" style="stroke: #000000; stroke-width: 0.8"/>
      </g>
     </g>
     <g id="text_36">
      <text style="font-size: 10px; font-family: 'DejaVu Sans', 'Liberation Sans', sans-serif; text-anchor: middle" x="193.324909" y="836.8">7.5</text>
     </g>
    </g>
    <g id="xtick_21">
     <g id="line2d_100">
      <path d="M 265.32 821.88 
L 265.32 599.76 
" clip-path="url(#p6971afbf80)" style="fill: none; stroke: #b0b0b0; stroke-width: 0.8; stroke-linecap: square"/>
     </g>
     <g id="line2d_101">
      <g>
       <use href="#m36081f66a5" x="265.32" y="821.88" style="stroke: #000000; stroke-width: 0.8"/>
      </g>
     </g>
     <g id="text_37">
      <text style="font-size: 10px; font-family: 'DejaVu Sans', 'Liberation Sans', sans-serif; text-anchor: middle" x="265.447636" y="836.8">10.0</text>
     </g>
    </g>
    <g id="xtick_22">
     <g id="line2d_102">
      <path d="M 337.68 821.88 
L 337.68 599.76 
" clip-path="url(#p6971afbf80)" style="fill: none; stroke: #b0b0b0; stroke-width: 0.8; stroke-linecap: square"/>
     </g>
     <g id="line2d_103">
      <g>
       <use href="#m36081f66a5" x="337.68" y="821.88" style="stroke: #000000; stroke-width: 0.8"/>
      </g>
     </g>
     <g id="text_38">
      <text style="font-size: 10px; font-family: 'DejaVu Sans', 'Liberation Sans', sans-serif; text-anchor: middle" x="337.570364" y="836.8">12.5</text>
     </g>
    </g>
    <g id="xtick_23">
     <g id="line2d_104">
      <path d="M 409.68 821.88 
L 409.68 599.76 
" clip-path="url(#p6971afbf80)" style="fill: none; stroke: #b0b0b0; stroke-width: 0.8; stroke-linecap: square"/>
     </g>
     <g id="line2d_105">
      <g>
       <use href="#m36081f66a5" x="409.68" y="821.88" style="stroke: #000000; stroke-width: 0.8"/>
      </g>
     </g>
     <g id="text_39">
      <text style="font-size: 10px; font-family: 'DejaVu Sans', 'Liberation Sans', sans-serif; text-anchor: middle" x="409.693091" y="836.8">15.0</text>
     </g>
    </g>
    <g id="xtick_24">
     <g id="line2d_106">
      <path d="M 481.68 821.88 
L 481.68 599.76 
" clip-path="url(#p6971afbf80)" style="fill: none; stroke: #b0b0b0; stroke-width: 0.8; stroke-linecap: square"/>
     </g>
     <g id="line2d_107">
      <g>
       <use href="#m36081f66a5" x="481.68" y="821.88" style="stroke: #000000; stroke-width: 0.8"/>
      </g>
     </g>
     <g id="text_40">
      <text style="font-size: 10px; font-family: 'DejaVu Sans', 'Liberation Sans', sans-serif; text-anchor: middle" x="481.815818" y="836.8">17.5</text>
     </g>
    </g>
    <g id="xtick_25">
     <g id="line2d_108">
      <path d="M 554.04 821.88 
L 554.04 599.76 
" clip-path="url(#p6971afbf80)" style="fill: none; stroke: #b0b0b0; stroke-width: 0.8; stroke-linecap: square"/>
     </g>
     <g id="line2d_109">
      <g>
       <use href="#m36081f66a5" x="554.04" y="821.88" style="stroke: #000000; stroke-width: 0.8"/>
      </g>
     </g>
     <g id="text_41">
      <text style="font-size: 10px; font-family: 'DejaVu Sans', 'Liberation Sans', sans-serif; text-anchor: middle" x="553.938545" y="836.8">20.0</text>
     </g>
    </g>
    <g id="xtick_26">
     <g id="line2d_110">
      <path d="M 626.04 821.88 
L 626.04 599.76 
" clip-path="url(#p6971afbf80)" style="fill: none; stroke: #b0b0b0; stroke-width: 0.8; stroke-linecap: square"/>
     </g>
     <g id="line2d_111">
      <g>
       <use href="#m36081f66a5" x="626.04" y="821.88" style="stroke: #000000; stroke-width: 0.8"/>
      </g>
     </g>
     <g id="text_42">
      <text style="font-size: 10px; font-family: 'DejaVu Sans', 'Liberation Sans', sans-serif; text-anchor: middle" x="626.061273" y="836.8">22.5</text>
     </g>
    </g>
    <g id="xtick_27">
     <g id="line2d_112">
      <path d="M 698.04 821.88 
L 698.04 599.76 
" clip-path="url(#p6971afbf80)" style="fill: none; stroke: #b0b0b0; stroke-width: 0.8; stroke-linecap: square"/>
     </g>
     <g id="line2d_113">
      <g>
       <use href="#m36081f66a5" x="698.04" y="821.88" style="stroke: #000000; stroke-width: 0.8"/>
      </g>
     </g>
     <g id="text_43">
      <text style="font-size: 10px; font-family: 'DejaVu Sans', 'Liberation Sans', sans-serif; text-anchor: middle" x="698.184" y="836.8">25.0</text>
     </g>
    </g>
    <g id="text_44">
     <text style="font-size: 10px; font-family: 'DejaVu Sans', 'Liberation Sans', sans-serif; text-anchor: middle" x="380.844" y="850.88">Request Rate (RPS)</text>
    </g>
   </g>
   <g id="matplotlib.axis_6">
    <g id="ytick_14">
     <g id="line2d_114">
      <path d="M 63.36 813.6 
L 698.04 813.6 
" clip-path="url(#p6971afbf80)" style="fill: none; stroke: #b0b0b0; stroke-width: 0.8; stroke-linecap: square"/>
     </g>
     <g id="line2d_115">
      <g>
       <use href="#m27e57e332f" x="63.36" y="813.6" style="stroke: #000000; stroke-width: 0.8"/>
      </g>
     </g>
     <g id="text_45">
      <text style="font-size: 10px; font-family: 'DejaVu Sans', 'Liberation Sans', sans-serif; text-anchor: end" x="56.504" y="817.632">25</text>
     </g>
    </g>
    <g id="ytick_15">
     <g id="line2d_116">
      <path d="M 63.36 784.8 
L 698.04 784.8 
" clip-path="url(#p6971afbf80)" style="fill: none; stroke: #b0b0b0; stroke-width: 0.8; stroke-linecap: square"/>
     </g>
     <g id="line2d_117">
      <g>
       <use href="#m27e57e332f" x="63.36" y="784.8" style="stroke: #000000; stroke-width: 0.8"/>
      </g>
     </g>
     <g id="text_46">
      <text style="font-size: 10px; font-family: 'DejaVu Sans', 'Liberation Sans', sans-serif; text-anchor: end" x="56.504" y="788.886">50</text>
     </g>
    </g>
    <g id="ytick_16">
     <g id="line2d_118">
      <path d="M 63.36 756.36 
L 698.04 756.36 
" clip-path="url(#p6971afbf80)" style="fill: none; stroke: #b0b0b0; stroke-width: 0.8; stroke-linecap: square"/>
     </g>
     <g id="line2d_119">
      <g>
       <use href="#m27e57e332f" x="63.36" y="756.36" style="stroke: #000000; stroke-width: 0.8"/>
      </g>
     </g>
     <g id="text_47">
      <text style="font-size: 10px; font-family: 'DejaVu Sans', 'Liberation Sans', sans-serif; text-anchor: end" x="56.504" y="760.14">75</text>
     </g>
    </g>
    <g id="ytick_17">
     <g id="line2d_120">
      <path d="M 63.36 727.56 
L 698.04 727.56 
" clip-path="url(#p6971afbf80)" style="fill: none; stroke: #b0b0b0; stroke-width: 0.8; stroke-linecap: square"/>
     </g>
     <g id="line2d_121">
      <g>
       <use href="#m27e57e332f" x="63.36" y="727.56" style="stroke: #000000; stroke-width: 0.8"/>
      </g>
     </g>
     <g id="text_48">
      <text style="font-size: 10px; font-family: 'DejaVu Sans', 'Liberation Sans', sans-serif; text-anchor: end" x="56.504" y="731.394">100</text>
     </g>
    </g>
    <g id="ytick_18">
     <g id="line2d_122">
      <path d="M 63.36 698.76 
L 698.04 698.76 
" clip-path="url(#p6971afbf80)" style="fill: none; stroke: #b0b0b0; stroke-width: 0.8; stroke-linecap: square"/>
     </g>
     <g id="line2d_123">
      <g>
       <use href="#m27e57e332f" x="63.36" y="698.76" style="stroke: #000000; stroke-width: 0.8"/>
      </g>
     </g>
     <g id="text_49">
      <text style="font-size: 10px; font-family: 'DejaVu Sans', 'Liberation Sans', sans-serif; text-anchor: end" x="56.504" y="702.648">125</text>
     </g>
    </g>
    <g id="ytick_19">
     <g id="line2d_124">
      <path d="M 63.36 669.96 
L 698.04 669.96 
" clip-path="url(#p6971afbf80)" style="fill: none; stroke: #b0b0b0; stroke-width: 0.8; stroke-linecap: square"/>
     </g>
     <g id="line2d_125">
      <g>
       <use href="#m27e57e332f" x="63.36" y="669.96" style="stroke: #000000; stroke-width: 0.8"/>
      </g>
     </g>
     <g id="text_50">
      <text style="font-size: 10px; font-family: 'DejaVu Sans', 'Liberation Sans', sans-serif; text-anchor: end" x="56.504" y="673.902">150</text>
     </g>
    </g>
    <g id="ytick_20">
     <g id="line2d_126">
      <path d="M 63.36 641.16 
L 698.04 641.16 
" clip-path="url(#p6971afbf80)" style="fill: none; stroke: #b0b0b0; stroke-width: 0.8; stroke-linecap: square"/>
     </g>
     <g id="line2d_127">
      <g>
       <use href="#m27e57e332f" x="63.36" y="641.16" style="stroke: #000000; stroke-width: 0.8"/>
      </g>
     </g>
     <g id="text_51">
      <text style="font-size: 10px; font-family: 'DejaVu Sans', 'Liberation Sans', sans-serif; text-anchor: end" x="56.504" y="645.156">175</text>
     </g>
    </g>
    <g id="ytick_21">
     <g id="line2d_128">
      <path d="M 63.36 612.36 
L 698.04 612.36 
" clip-path="url(#p6971afbf80)" style="fill: none; stroke: #b0b0b0; stroke-width: 0.8; stroke-linecap: square"/>
     </g>
     <g id="line2d_129">
      <g>
       <use href="#m27e57e332f" x="63.36" y="612.36" style="stroke: #000000; stroke-width: 0.8"/>
      </g>
     </g>
     <g id="text_52">
      <text style="font-size: 10px; font-family: 'DejaVu Sans', 'Liberation Sans', sans-serif; text-anchor: end" x="56.504" y="616.41">200</text>
     </g>
    </g>
    <g id="text_53">
     <text style="font-size: 10px; font-family: 'DejaVu Sans', 'Liberation Sans', sans-serif; text-anchor: middle" x="31.219" y="710.802" transform="rotate(-90 31.219 710.802)">P99 TPOT (ms)</text>
    </g>
   </g>
   <g id="line2d_130">
    <path d="M 92.353091 792.216 
L 121.202182 801.756 
L 150.051273 799.56 
L 178.900364 797.976 
L 207.749455 794.556 
L 236.598545 793.548 
L 265.447636 792 
L 294.296727 789.732 
L 323.145818 788.076 
L 351.994909 788.04 
L 380.844 783.252 
L 409.693091 783.468 
L 438.542182 777.384 
L 467.391273 782.244 
L 496.240364 784.08 
L 525.089455 775.836 
L 553.938545 780.84 
L 582.787636 775.26 
L 611.636727 770.472 
L 640.485818 776.628 
L 669.334909 775.44 
" clip-path="url(#p6971afbf80)" style="fill: none; stroke-dasharray: 5.55,2.4; stroke-dashoffset: 0; stroke: #1f77b4; stroke-width: 1.5"/>
    <g clip-path="url(#p6971afbf80)">
     <use href="#md79a8c80a0" x="92.353091" y="792.216" style="fill: #1f77b4; stroke: #1f77b4"/>
     <use href="#md79a8c80a0" x="121.202182" y="801.756" style="fill: #1f77b4; stroke: #1f77b4"/>
     <use href="#md79a8c80a0" x="150.051273" y="799.56" style="fill: #1f77b4; stroke: #1f77b4"/>
     <use href="#md79a8c80a0" x="178.900364" y="797.976" style="fill: #1f77b4; stroke: #1f77b4"/>
     <use href="#md79a8c80a0" x="207.749455" y="794.556" style="fill: #1f77b4; stroke: #1f77b4"/>
     <use href="#md79a8c80a0" x="236.598545" y="793.548" style="fill: #1f77b4; stroke: #1f77b4"/>
     <use href="#md79a8c80a0" x="265.447636" y="792" style="fill: #1f77b4; stroke: #1f77b4"/>
     <use href="#md79a8c80a0" x="294.296727" y="789.732" style="fill: #1f77b4; stroke: #1f77b4"/>
     <use href="#md79a8c80a0" x="323.145818" y="788.076" style="fill: #1f77b4; stroke: #1f77b4"/>
     <use href="#md79a8c80a0" x="351.994909" y="788.04" style="fill: #1f77b4; stroke: #1f77b4"/>
     <use href="#md79a8c80a0" x="380.844" y="783.252" style="fill: #1f77b4; stroke: #1f77b4"/>
     <use href="#md79a8c80a0" x="409.693091" y="783.468" style="fill: #1f77b4; stroke: #1f77b4"/>
     <use href="#md79a8c80a0" x="438.542182" y="777.384" style="fill: #1f77b4; stroke: #1f77b4"/>
     <use href="#md79a8c80a0" x="467.391273" y="782.244" style="fill: #1f77b4; stroke: #1f77b4"/>
     <use href="#md79a8c80a0" x="496.240364" y="784.08" style="fill: #1f77b4; stroke: #1f77b4"/>
     <use href="#md79a8c80a0" x="525.089455" y="775.836" style="fill: #1f77b4; stroke: #1f77b4"/>
     <use href="#md79a8c80a0" x="553.938545" y="780.84" style="fill: #1f77b4; stroke: #1f77b4"/>
     <use href="#md79a8c80a0" x="582.787636" y="775.26" style="fill: #1f77b4; stroke: #1f77b4"/>
     <use href="#md79a8c80a0" x="611.636727" y="770.472" style="fill: #1f77b4; stroke: #1f77b4"/>
     <use href="#md79a8c80a0" x="640.485818" y="776.628" style="fill: #1f77b4; stroke: #1f77b4"/>
     <use href="#md79a8c80a0" x="669.334909" y="775.44" style="fill: #1f77b4; stroke: #1f77b4"/>
    </g>
   </g>
   <g id="line2d_131">
    <path d="M 92.353091 811.548 
L 121.202182 811.764 
L 150.051273 812.016 
L 178.900364 810.72 
L 207.749455 811.26 
L 236.598545 810 
L 265.447636 809.676 
L 294.296727 806.904 
L 323.145818 807.444 
L 351.994909 803.52 
L 380.844 804.024 
L 409.693091 806.904 
L 438.542182 793.836 
L 467.391273 790.236 
L 496.240364 801.972 
L 525.089455 792 
L 553.938545 798.912 
L 582.787636 782.316 
L 611.636727 782.316 
L 640.485818 766.224 
L 669.334909 784.944 
" clip-path="url(#p6971afbf80)" style="fill: none; stroke: #1f77b4; stroke-width: 1.5; stroke-linecap: square"/>
    <g clip-path="url(#p6971afbf80)">
     <use href="#md79a8c80a0" x="92.353091" y="811.548" style="fill: #1f77b4; stroke: #1f77b4"/>
     <use href="#md79a8c80a0" x="121.202182" y="811.764" style="fill: #1f77b4; stroke: #1f77b4"/>
     <use href="#md79a8c80a0" x="150.051273" y="812.016" style="fill: #1f77b4; stroke: #1f77b4"/>
     <use href="#md79a8c80a0" x="178.900364" y="810.72" style="fill: #1f77b4; stroke: #1f77b4"/>
     <use href="#md79a8c80a0" x="207.749455" y="811.26" style="fill: #1f77b4; stroke: #1f77b4"/>
     <use href="#md79a8c80a0" x="236.598545" y="810" style="fill: #1f77b4; stroke: #1f77b4"/>
     <use href="#md79a8c80a0" x="265.447636" y="809.676" style="fill: #1f77b4; stroke: #1f77b4"/>
     <use href="#md79a8c80a0" x="294.296727" y="806.904" style="fill: #1f77b4; stroke: #1f77b4"/>
     <use href="#md79a8c80a0" x="323.145818" y="807.444" style="fill: #1f77b4; stroke: #1f77b4"/>
     <use href="#md79a8c80a0" x="351.994909" y="803.52" style="fill: #1f77b4; stroke: #1f77b4"/>
     <use href="#md79a8c80a0" x="380.844" y="804.024" style="fill: #1f77b4; stroke: #1f77b4"/>
     <use href="#md79a8c80a0" x="409.693091" y="806.904" style="fill: #1f77b4; stroke: #1f77b4"/>
     <use href="#md79a8c80a0" x="438.542182" y="793.836" style="fill: #1f77b4; stroke: #1f77b4"/>
     <use href="#md79a8c80a0" x="467.391273" y="790.236" style="fill: #1f77b4; stroke: #1f77b4"/>
     <use href="#md79a8c80a0" x="496.240364" y="801.972" style="fill: #1f77b4; stroke: #1f77b4"/>
     <use href="#md79a8c80a0" x="525.089455" y="792" style="fill: #1f77b4; stroke: #1f77b4"/>
     <use href="#md79a8c80a0" x="553.938545" y="798.912" style="fill: #1f77b4; stroke: #1f77b4"/>
     <use href="#md79a8c80a0" x="582.787636" y="782.316" style="fill: #1f77b4; stroke: #1f77b4"/>
     <use href="#md79a8c80a0" x="611.636727" y="782.316" style="fill: #1f77b4; stroke: #1f77b4"/>
     <use href="#md79a8c80a0" x="640.485818" y="766.224" style="fill: #1f77b4; stroke: #1f77b4"/>
     <use href="#md79a8c80a0" x="669.334909" y="784.944" style="fill: #1f77b4; stroke: #1f77b4"/>
    </g>
   </g>
   <g id="line2d_132">
    <path d="M 92.353091 788.112 
L 121.202182 793.8 
L 150.051273 786.6 
L 178.900364 785.592 
L 207.749455 779.04 
L 236.598545 767.844 
L 265.447636 766.8 
L 294.296727 753.948 
L 323.145818 739.08 
L 351.994909 735.66 
L 380.844 748.296 
L 409.693091 755.28 
L 438.542182 756.504 
L 467.391273 761.976 
L 496.240364 747.756 
L 525.089455 750.348 
L 553.938545 741.024 
L 582.787636 744.012 
L 611.636727 744.48 
L 640.485818 728.64 
L 669.334909 728.928 
" clip-path="url(#p6971afbf80)" style="fill: none; stroke-dasharray: 5.55,2.4; stroke-dashoffset: 0; stroke: #ff7f0e; stroke-width: 1.5"/>
    <g clip-path="url(#p6971afbf80)">
     <use href="#mdc11204883" x="92.353091" y="788.112" style="fill: #ff7f0e; stroke: #ff7f0e"/>
     <use href="#mdc11204883" x="121.202182" y="793.8" style="fill: #ff7f0e; stroke: #ff7f0e"/>
     <use href="#mdc11204883" x="150.051273" y="786.6" style="fill: #ff7f0e; stroke: #ff7f0e"/>
     <use href="#mdc11204883" x="178.900364" y="785.592" style="fill: #ff7f0e; stroke: #ff7f0e"/>
     <use href="#mdc11204883" x="207.749455" y="779.04" style="fill: #ff7f0e; stroke: #ff7f0e"/>
     <use href="#mdc11204883" x="236.598545" y="767.844" style="fill: #ff7f0e; stroke: #ff7f0e"/>
     <use href="#mdc11204883" x="265.447636" y="766.8" style="fill: #ff7f0e; stroke: #ff7f0e"/>
     <use href="#mdc11204883" x="294.296727" y="753.948" style="fill: #ff7f0e; stroke: #ff7f0e"/>
     <use href="#mdc11204883" x="323.145818" y="739.08" style="fill: #ff7f0e; stroke: #ff7f0e"/>
     <use href="#mdc11204883" x="351.994909" y="735.66" style="fill: #ff7f0e; stroke: #ff7f0e"/>
     <use href="#mdc11204883" x="380.844" y="748.296" style="fill: #ff7f0e; stroke: #ff7f0e"/>
     <use href="#mdc11204883" x="409.693091" y="755.28" style="fill: #ff7f0e; stroke: #ff7f0e"/>
     <use href="#mdc11204883" x="438.542182" y="756.504" style="fill: #ff7f0e; stroke: #ff7f0e"/>
     <use href="#mdc11204883" x="467.391273" y="761.976" style="fill: #ff7f0e; stroke: #ff7f0e"/>
     <use href="#mdc11204883" x="496.240364" y="747.756" style="fill: #ff7f0e; stroke: #ff7f0e"/>
     <use href="#mdc11204883" x="525.089455" y="750.348" style="fill: #ff7f0e; stroke: #ff7f0e"/>
     <use href="#mdc11204883" x="553.938545" y="741.024" style="fill: #ff7f0e; stroke: #ff7f0e"/>
     <use href="#mdc11204883" x="582.787636" y="744.012" style="fill: #ff7f0e; stroke: #ff7f0e"/>
     <use href="#mdc11204883" x="611.636727" y="744.48" style="fill: #ff7f0e; stroke: #ff7f0e"/>
     <use href="#mdc11204883" x="640.485818" y="728.64" style="fill: #ff7f0e; stroke: #ff7f0e"/>
     <use href="#mdc11204883" x="669.334909" y="728.928" style="fill: #ff7f0e; stroke: #ff7f0e"/>
    </g>
   </g>
   <g id="line2d_133">
    <path d="M 92.353091 809.64 
L 121.202182 810.36 
L 150.051273 807.66 
L 178.900364 806.76 
L 207.749455 807.12 
L 236.598545 805.356 
L 265.447636 805.464 
L 294.296727 800.964 
L 323.145818 801.252 
L 351.994909 796.644 
L 380.844 796.932 
L 409.693091 795.816 
L 438.542182 764.748 
L 467.391273 773.496 
L 496.240364 789.624 
L 525.089455 769.896 
L 553.938545 785.16 
L 582.787636 768.204 
L 611.636727 767.556 
L 640.485818 745.38 
L 669.334909 769.392 
" clip-path="url(#p6971afbf80)" style="fill: none; stroke: #ff7f0e; stroke-width: 1.5; stroke-linecap: square"/>
    <g clip-path="url(#p6971afbf80)">
     <use href="#mdc11204883" x="92.353091" y="809.64" style="fill: #ff7f0e; stroke: #ff7f0e"/>
     <use href="#mdc11204883" x="121.202182" y="810.36" style="fill: #ff7f0e; stroke: #ff7f0e"/>
     <use href="#mdc11204883" x="150.051273" y="807.66" style="fill: #ff7f0e; stroke: #ff7f0e"/>
     <use href="#mdc11204883" x="178.900364" y="806.76" style="fill: #ff7f0e; stroke: #ff7f0e"/>
     <use href="#mdc11204883" x="207.749455" y="807.12" style="fill: #ff7f0e; stroke: #ff7f0e"/>
     <use href="#mdc11204883" x="236.598545" y="805.356" style="fill: #ff7f0e; stroke: #ff7f0e"/>
     <use href="#mdc11204883" x="265.447636" y="805.464" style="fill: #ff7f0e; stroke: #ff7f0e"/>
     <use href="#mdc11204883" x="294.296727" y="800.964" style="fill: #ff7f0e; stroke: #ff7f0e"/>
     <use href="#mdc11204883" x="323.145818" y="801.252" style="fill: #ff7f0e; stroke: #ff7f0e"/>
     <use href="#mdc11204883" x="351.994909" y="796.644" style="fill: #ff7f0e; stroke: #ff7f0e"/>
     <use href="#mdc11204883" x="380.844" y="796.932" style="fill: #ff7f0e; stroke: #ff7f0e"/>
     <use href="#mdc11204883" x="409.693091" y="795.816" style="fill: #ff7f0e; stroke: #ff7f0e"/>
     <use href="#mdc11204883" x="438.542182" y="764.748" style="fill: #ff7f0e; stroke: #ff7f0e"/>
     <use href="#mdc11204883" x="467.391273" y="773.496" style="fill: #ff7f0e; stroke: #ff7f0e"/>
     <use href="#mdc11204883" x="496.240364" y="789.624" style="fill: #ff7f0e; stroke: #ff7f0e"/>
     <use href="#mdc11204883" x="525.089455" y="769.896" style="fill: #ff7f0e; stroke: #ff7f0e"/>
     <use href="#mdc11204883" x="553.938545" y="785.16" style="fill: #ff7f0e; stroke: #ff7f0e"/>
     <use href="#mdc11204883" x="582.787636" y="768.204" style="fill: #ff7f0e; stroke: #ff7f0e"/>
     <use href="#mdc11204883" x="611.636727" y="767.556" style="fill: #ff7f0e; stroke: #ff7f0e"/>
     <use href="#mdc11204883" x="640.485818" y="745.38" style="fill: #ff7f0e; stroke: #ff7f0e"/>
     <use href="#mdc11204883" x="669.334909" y="769.392" style="fill: #ff7f0e; stroke: #ff7f0e"/>
    </g>
   </g>
   <g id="line2d_134">
    <path d="M 92.353091 777.96 
L 121.202182 772.308 
L 150.051273 766.836 
L 178.900364 755.316 
L 207.749455 728.604 
L 236.598545 684.792 
L 265.447636 664.2 
L 294.296727 683.424 
L 323.145818 728.46 
L 351.994909 716.04 
L 380.844 698.184 
L 409.693091 713.592 
L 438.542182 691.704 
L 467.391273 699.552 
L 496.240364 683.784 
L 525.089455 685.908 
L 553.938545 683.712 
L 582.787636 667.152 
L 611.636727 679.752 
L 640.485818 671.4 
L 669.334909 669.816 
" clip-path="url(#p6971afbf80)" style="fill: none; stroke-dasharray: 5.55,2.4; stroke-dashoffset: 0; stroke: #2ca02c; stroke-width: 1.5"/>
    <g clip-path="url(#p6971afbf80)">
     <use href="#m254e5fd85e" x="92.353091" y="777.96" style="fill: #2ca02c; stroke: #2ca02c"/>
     <use href="#m254e5fd85e" x="121.202182" y="772.308" style="fill: #2ca02c; stroke: #2ca02c"/>
     <use href="#m254e5fd85e" x="150.051273" y="766.836" style="fill: #2ca02c; stroke: #2ca02c"/>
     <use href="#m254e5fd85e" x="178.900364" y="755.316" style="fill: #2ca02c; stroke: #2ca02c"/>
     <use href="#m254e5fd85e" x="207.749455" y="728.604" style="fill: #2ca02c; stroke: #2ca02c"/>
     <use href="#m254e5fd85e" x="236.598545" y="684.792" style="fill: #2ca02c; stroke: #2ca02c"/>
     <use href="#m254e5fd85e" x="265.447636" y="664.2" style="fill: #2ca02c; stroke: #2ca02c"/>
     <use href="#m254e5fd85e" x="294.296727" y="683.424" style="fill: #2ca02c; stroke: #2ca02c"/>
     <use href="#m254e5fd85e" x="323.145818" y="728.46" style="fill: #2ca02c; stroke: #2ca02c"/>
     <use href="#m254e5fd85e" x="351.994909" y="716.04" style="fill: #2ca02c; stroke: #2ca02c"/>
     <use href="#m254e5fd85e" x="380.844" y="698.184" style="fill: #2ca02c; stroke: #2ca02c"/>
     <use href="#m254e5fd85e" x="409.693091" y="713.592" style="fill: #2ca02c; stroke: #2ca02c"/>
     <use href="#m254e5fd85e" x="438.542182" y="691.704" style="fill: #2ca02c; stroke: #2ca02c"/>
     <use href="#m254e5fd85e" x="467.391273" y="699.552" style="fill: #2ca02c; stroke: #2ca02c"/>
     <use href="#m254e5fd85e" x="496.240364" y="683.784" style="fill: #2ca02c; stroke: #2ca02c"/>
     <use href="#m254e5fd85e" x="525.089455" y="685.908" style="fill: #2ca02c; stroke: #2ca02c"/>
     <use href="#m254e5fd85e" x="553.938545" y="683.712" style="fill: #2ca02c; stroke: #2ca02c"/>
     <use href="#m254e5fd85e" x="582.787636" y="667.152" style="fill: #2ca02c; stroke: #2ca02c"/>
     <use href="#m254e5fd85e" x="611.636727" y="679.752" style="fill: #2ca02c; stroke: #2ca02c"/>
     <use href="#m254e5fd85e" x="640.485818" y="671.4" style="fill: #2ca02c; stroke: #2ca02c"/>
     <use href="#m254e5fd85e" x="669.334909" y="669.816" style="fill: #2ca02c; stroke: #2ca02c"/>
    </g>
   </g>
   <g id="line2d_135">
    <path d="M 92.353091 807.48 
L 121.202182 806.76 
L 150.051273 804.24 
L 178.900364 802.584 
L 207.749455 800.136 
L 236.598545 795.6 
L 265.447636 793.836 
L 294.296727 788.616 
L 323.145818 786.636 
L 351.994909 788.076 
L 380.844 778.104 
L 409.693091 775.836 
L 438.542182 749.52 
L 467.391273 751.896 
L 496.240364 766.8 
L 525.089455 765.252 
L 553.938545 766.872 
L 582.787636 741.24 
L 611.636727 752.616 
L 640.485818 736.74 
L 669.334909 764.388 
" clip-path="url(#p6971afbf80)" style="fill: none; stroke: #2ca02c; stroke-width: 1.5; stroke-linecap: square"/>
    <g clip-path="url(#p6971afbf80)">
     <use href="#m254e5fd85e" x="92.353091" y="807.48" style="fill: #2ca02c; stroke: #2ca02c"/>
     <use href="#m254e5fd85e" x="121.202182" y="806.76" style="fill: #2ca02c; stroke: #2ca02c"/>
     <use href="#m254e5fd85e" x="150.051273" y="804.24" style="fill: #2ca02c; stroke: #2ca02c"/>
     <use href="#m254e5fd85e" x="178.900364" y="802.584" style="fill: #2ca02c; stroke: #2ca02c"/>
     <use href="#m254e5fd85e" x="207.749455" y="800.136" style="fill: #2ca02c; stroke: #2ca02c"/>
     <use href="#m254e5fd85e" x="236.598545" y="795.6" style="fill: #2ca02c; stroke: #2ca02c"/>
     <use href="#m254e5fd85e" x="265.447636" y="793.836" style="fill: #2ca02c; stroke: #2ca02c"/>
     <use href="#m254e5fd85e" x="294.296727" y="788.616" style="fill: #2ca02c; stroke: #2ca02c"/>
     <use href="#m254e5fd85e" x="323.145818" y="786.636" style="fill: #2ca02c; stroke: #2ca02c"/>
     <use href="#m254e5fd85e" x="351.994909" y="788.076" style="fill: #2ca02c; stroke: #2ca02c"/>
     <use href="#m254e5fd85e" x="380.844" y="778.104" style="fill: #2ca02c; stroke: #2ca02c"/>
     <use href="#m254e5fd85e" x="409.693091" y="775.836" style="fill: #2ca02c; stroke: #2ca02c"/>
     <use href="#m254e5fd85e" x="438.542182" y="749.52" style="fill: #2ca02c; stroke: #2ca02c"/>
     <use href="#m254e5fd85e" x="467.391273" y="751.896" style="fill: #2ca02c; stroke: #2ca02c"/>
     <use href="#m254e5fd85e" x="496.240364" y="766.8" style="fill: #2ca02c; stroke: #2ca02c"/>
     <use href="#m254e5fd85e" x="525.089455" y="765.252" style="fill: #2ca02c; stroke: #2ca02c"/>
     <use href="#m254e5fd85e" x="553.938545" y="766.872" style="fill: #2ca02c; stroke: #2ca02c"/>
     <use href="#m254e5fd85e" x="582.787636" y="741.24" style="fill: #2ca02c; stroke: #2ca02c"/>
     <use href="#m254e5fd85e" x="611.636727" y="752.616" style="fill: #2ca02c; stroke: #2ca02c"/>
     <use href="#m254e5fd85e" x="640.485818" y="736.74" style="fill: #2ca02c; stroke: #2ca02c"/>
     <use href="#m254e5fd85e" x="669.334909" y="764.388" style="fill: #2ca02c; stroke: #2ca02c"/>
    </g>
   </g>
   <g id="line2d_136">
    <path d="M 92.353091 767.124 
L 121.202182 757.512 
L 150.051273 733.824 
L 178.900364 676.44 
L 207.749455 686.52 
L 236.598545 614.664 
L 265.447636 669.816 
L 294.296727 674.424 
L 323.145818 626.4 
L 351.994909 644.832 
L 380.844 672.12 
L 409.693091 673.632 
L 438.542182 676.728 
L 467.391273 664.056 
L 496.240364 675.36 
L 525.089455 654.948 
L 553.938545 662.112 
L 582.787636 635.04 
L 611.636727 609.912 
L 640.485818 628.632 
L 669.334909 663.912 
" clip-path="url(#p6971afbf80)" style="fill: none; stroke-dasharray: 5.55,2.4; stroke-dashoffset: 0; stroke: #d62728; stroke-width: 1.5"/>
    <g clip-path="url(#p6971afbf80)">
     <use href="#m993c00af96" x="92.353091" y="767.124" style="fill: #d62728; stroke: #d62728"/>
     <use href="#m993c00af96" x="121.202182" y="757.512" style="fill: #d62728; stroke: #d62728"/>
     <use href="#m993c00af96" x="150.051273" y="733.824" style="fill: #d62728; stroke: #d62728"/>
     <use href="#m993c00af96" x="178.900364" y="676.44" style="fill: #d62728; stroke: #d62728"/>
     <use href="#m993c00af96" x="207.749455" y="686.52" style="fill: #d62728; stroke: #d62728"/>
     <use href="#m993c00af96" x="236.598545" y="614.664" style="fill: #d62728; stroke: #d62728"/>
     <use href="#m993c00af96" x="265.447636" y="669.816" style="fill: #d62728; stroke: #d62728"/>
     <use href="#m993c00af96" x="294.296727" y="674.424" style="fill: #d62728; stroke: #d62728"/>
     <use href="#m993c00af96" x="323.145818" y="626.4" style="fill: #d62728; stroke: #d62728"/>
     <use href="#m993c00af96" x="351.994909" y="644.832" style="fill: #d62728; stroke: #d62728"/>
     <use href="#m993c00af96" x="380.844" y="672.12" style="fill: #d62728; stroke: #d62728"/>
     <use href="#m993c00af96" x="409.693091" y="673.632" style="fill: #d62728; stroke: #d62728"/>
     <use href="#m993c00af96" x="438.542182" y="676.728" style="fill: #d62728; stroke: #d62728"/>
     <use href="#m993c00af96" x="467.391273" y="664.056" style="fill: #d62728; stroke: #d62728"/>
     <use href="#m993c00af96" x="496.240364" y="675.36" style="fill: #d62728; stroke: #d62728"/>
     <use href="#m993c00af96" x="525.089455" y="654.948" style="fill: #d62728; stroke: #d62728"/>
     <use href="#m993c00af96" x="553.938545" y="662.112" style="fill: #d62728; stroke: #d62728"/>
     <use href="#m993c00af96" x="582.787636" y="635.04" style="fill: #d62728; stroke: #d62728"/>
     <use href="#m993c00af96" x="611.636727" y="609.912" style="fill: #d62728; stroke: #d62728"/>
     <use href="#m993c00af96" x="640.485818" y="628.632" style="fill: #d62728; stroke: #d62728"/>
     <use href="#m993c00af96" x="669.334909" y="663.912" style="fill: #d62728; stroke: #d62728"/>
    </g>
   </g>
   <g id="line2d_137">
    <path d="M 92.353091 804.24 
L 121.202182 803.952 
L 150.051273 799.056 
L 178.900364 797.688 
L 207.749455 795.96 
L 236.598545 789.948 
L 265.447636 786.348 
L 294.296727 784.296 
L 323.145818 779.148 
L 351.994909 770.4 
L 380.844 781.416 
L 409.693091 770.076 
L 438.542182 770.4 
L 467.391273 754.776 
L 496.240364 780.156 
L 525.089455 753.12 
L 553.938545 762.12 
L 582.787636 760.32 
L 611.636727 760.788 
L 640.485818 722.088 
L 669.334909 766.044 
" clip-path="url(#p6971afbf80)" style="fill: none; stroke: #d62728; stroke-width: 1.5; stroke-linecap: square"/>
    <g clip-path="url(#p6971afbf80)">
     <use href="#m993c00af96" x="92.353091" y="804.24" style="fill: #d62728; stroke: #d62728"/>
     <use href="#m993c00af96" x="121.202182" y="803.952" style="fill: #d62728; stroke: #d62728"/>
     <use href="#m993c00af96" x="150.051273" y="799.056" style="fill: #d62728; stroke: #d62728"/>
     <use href="#m993c00af96" x="178.900364" y="797.688" style="fill: #d62728; stroke: #d62728"/>
     <use href="#m993c00af96" x="207.749455" y="795.96" style="fill: #d62728; stroke: #d62728"/>
     <use href="#m993c00af96" x="236.598545" y="789.948" style="fill: #d62728; stroke: #d62728"/>
     <use href="#m993c00af96" x="265.447636" y="786.348" style="fill: #d62728; stroke: #d62728"/>
     <use href="#m993c00af96" x="294.296727" y="784.296" style="fill: #d62728; stroke: #d62728"/>
     <use href="#m993c00af96" x="323.145818" y="779.148" style="fill: #d62728; stroke: #d62728"/>
     <use href="#m993c00af96" x="351.994909" y="770.4" style="fill: #d62728; stroke: #d62728"/>
     <use href="#m993c00af96" x="380.844" y="781.416" style="fill: #d62728; stroke: #d62728"/>
     <use href="#m993c00af96" x="409.693091" y="770.076" style="fill: #d62728; stroke: #d62728"/>
     <use href="#m993c00af96" x="438.542182" y="770.4" style="fill: #d62728; stroke: #d62728"/>
     <use href="#m993c00af96" x="467.391273" y="754.776" style="fill: #d62728; stroke: #d62728"/>
     <use href="#m993c00af96" x="496.240364" y="780.156" style="fill: #d62728; stroke: #d62728"/>
     <use href="#m993c00af96" x="525.089455" y="753.12" style="fill: #d62728; stroke: #d62728"/>
     <use href="#m993c00af96" x="553.938545" y="762.12" style="fill: #d62728; stroke: #d62728"/>
     <use href="#m993c00af96" x="582.787636" y="760.32" style="fill: #d62728; stroke: #d62728"/>
     <use href="#m993c00af96" x="611.636727" y="760.788" style="fill: #d62728; stroke: #d62728"/>
     <use href="#m993c00af96" x="640.485818" y="722.088" style="fill: #d62728; stroke: #d62728"/>
     <use href="#m993c00af96" x="669.334909" y="766.044" style="fill: #d62728; stroke: #d62728"/>
    </g>
   </g>
   <g id="line2d_138">
    <path d="M 63.36 727.56 
L 698.04 727.56 
" clip-path="url(#p6971afbf80)" style="fill: none; stroke-dasharray: 1.5,2.475; stroke-dashoffset: 0; stroke: #000000; stroke-width: 1.5"/>
   </g>
   <g id="patch_15">
    <path d="M 63.36 821.88 
L 63.36 599.76 
" style="fill: none; stroke: #000000; stroke-width: 0.8; stroke-linejoin: miter; stroke-linecap: square"/>
   </g>
   <g id="patch_16">
    <path d="M 698.04 821.88 
L 698.04 599.76 
" style="fill: none; stroke: #000000; stroke-width: 0.8; stroke-linejoin: miter; stroke-linecap: square"/>
   </g>
   <g id="patch_17">
    <path d="M 63.36 821.88 
L 698.04 821.88 
" style="fill: none; stroke: #000000; stroke-width: 0.8; stroke-linejoin: miter; stroke-linecap: square"/>
   </g>
   <g id="patch_18">
    <path d="M 63.36 599.76 
L 698.04 599.76 
" style="fill: none; stroke: #000000; stroke-width: 0.8; stroke-linejoin: miter; stroke-linecap: square"/>
   </g>
   <g id="text_54">
    <text style="font-size: 10px; font-family: 'DejaVu Sans', 'Liberation Sans', sans-serif; text-anchor: start" x="66.388909" y="725.274">TPOT = 100 ms</text>
   </g>
   <g id="text_55">
    <text style="font-size: 12px; font-family: 'DejaVu Sans', 'Liberation Sans', sans-serif; text-anchor: middle" x="380.844" y="593.724">P99 TPOT (ms)</text>
   </g>
   <g id="legend_3">
    <g id="patch_19">
     <path d="M 70.504 730.014 
L 194.214 730.014 
Q 196.214 730.014 196.214 728.014 
L 196.214 606.724 
Q 196.214 604.724 194.214 604.724 
L 70.504 604.724 
Q 68.504 604.724 68.504 606.724 
L 68.504 728.014 
Q 68.504 730.014 70.504 730.014 
z
" style="fill: #ffffff; opacity: 0.8; stroke: #cccccc; stroke-linejoin: miter"/>
    </g>
    <g id="line2d_139">
     <path d="M 72.504 613.144 
L 82.504 613.144 
L 92.504 613.144 
" style="fill: none; stroke-dasharray: 5.55,2.4; stroke-dashoffset: 0; stroke: #1f77b4; stroke-width: 1.5"/>
     <g>
      <use href="#md79a8c80a0" x="82.504" y="613.144" style="fill: #1f77b4; stroke: #1f77b4"/>
     </g>
    </g>
    <g id="text_56">
     <text style="font-size: 10px; font-family: 'DejaVu Sans', 'Liberation Sans', sans-serif; text-anchor: start" x="100.504" y="616.644">image=1 non_epd</text>
    </g>
    <g id="line2d_140">
     <path d="M 72.504 628.614 
L 82.504 628.614 
L 92.504 628.614 
" style="fill: none; stroke: #1f77b4; stroke-width: 1.5; stroke-linecap: square"/>
     <g>
      <use href="#md79a8c80a0" x="82.504" y="628.614" style="fill: #1f77b4; stroke: #1f77b4"/>
     </g>
    </g>
    <g id="text_57">
     <text style="font-size: 10px; font-family: 'DejaVu Sans', 'Liberation Sans', sans-serif; text-anchor: start" x="100.504" y="632.114">image=1 epd</text>
    </g>
    <g id="line2d_141">
     <path d="M 72.504 643.724 
L 82.504 643.724 
L 92.504 643.724 
" style="fill: none; stroke-dasharray: 5.55,2.4; stroke-dashoffset: 0; stroke: #ff7f0e; stroke-width: 1.5"/>
     <g>
      <use href="#mdc11204883" x="82.504" y="643.724" style="fill: #ff7f0e; stroke: #ff7f0e"/>
     </g>
    </g>
    <g id="text_58">
     <text style="font-size: 10px; font-family: 'DejaVu Sans', 'Liberation Sans', sans-serif; text-anchor: start" x="100.504" y="647.224">image=2 non_epd</text>
    </g>
    <g id="line2d_142">
     <path d="M 72.504 659.194 
L 82.504 659.194 
L 92.504 659.194 
" style="fill: none; stroke: #ff7f0e; stroke-width: 1.5; stroke-linecap: square"/>
     <g>
      <use href="#mdc11204883" x="82.504" y="659.194" style="fill: #ff7f0e; stroke: #ff7f0e"/>
     </g>
    </g>
    <g id="text_59">
     <text style="font-size: 10px; font-family: 'DejaVu Sans', 'Liberation Sans', sans-serif; text-anchor: start" x="100.504" y="662.694">image=2 epd</text>
    </g>
    <g id="line2d_143">
     <path d="M 72.504 674.304 
L 82.504 674.304 
L 92.504 674.304 
" style="fill: none; stroke-dasharray: 5.55,2.4; stroke-dashoffset: 0; stroke: #2ca02c; stroke-width: 1.5"/>
     <g>
      <use href="#m254e5fd85e" x="82.504" y="674.304" style="fill: #2ca02c; stroke: #2ca02c"/>
     </g>
    </g>
    <g id="text_60">
     <text style="font-size: 10px; font-family: 'DejaVu Sans', 'Liberation Sans', sans-serif; text-anchor: start" x="100.504" y="677.804">image=3 non_epd</text>
    </g>
    <g id="line2d_144">
     <path d="M 72.504 689.774 
L 82.504 689.774 
L 92.504 689.774 
" style="fill: none; stroke: #2ca02c; stroke-width: 1.5; stroke-linecap: square"/>
     <g>
      <use href="#m254e5fd85e" x="82.504" y="689.774" style="fill: #2ca02c; stroke: #2ca02c"/>
     </g>
    </g>
    <g id="text_61">
     <text style="font-size: 10px; font-family: 'DejaVu Sans', 'Liberation Sans', sans-serif; text-anchor: start" x="100.504" y="693.274">image=3 epd</text>
    </g>
    <g id="line2d_145">
     <path d="M 72.504 704.884 
L 82.504 704.884 
L 92.504 704.884 
" style="fill: none; stroke-dasharray: 5.55,2.4; stroke-dashoffset: 0; stroke: #d62728; stroke-width: 1.5"/>
     <g>
      <use href="#m993c00af96" x="82.504" y="704.884" style="fill: #d62728; stroke: #d62728"/>
     </g>
    </g>
    <g id="text_62">
     <text style="font-size: 10px; font-family: 'DejaVu Sans', 'Liberation Sans', sans-serif; text-anchor: start" x="100.504" y="708.384">image=4 non_epd</text>
    </g>
    <g id="line2d_146">
     <path d="M 72.504 720.354 
L 82.504 720.354 
L 92.504 720.354 
" style="fill: none; stroke: #d62728; stroke-width: 1.5; stroke-linecap: square"/>
     <g>
      <use href="#m993c00af96" x="82.504" y="720.354" style="fill: #d62728; stroke: #d62728"/>
     </g>
    </g>
    <g id="text_63">
     <text style="font-size: 10px; font-family: 'DejaVu Sans', 'Liberation Sans', sans-serif; text-anchor: start" x="100.504" y="723.854">image=4 epd</text>
    </g>
   </g>
  </g>
  <g id="text_64">
   <text style="font-size: 12px; font-family: 'DejaVu Sans', 'Liberation Sans', sans-serif; text-anchor: middle" x="360" y="26.64">EPD vs Non-EPD Metrics (input_len=400)</text>
  </g>
 </g>
 <defs>
  <clipPath id="pe213711e30">
   <rect x="63.504" y="93.888" width="634.68" height="222.552"/>
  </clipPath>
  <clipPath id="p00f0d204f8">
   <rect x="63.504" y="346.644" width="634.68" height="222.516"/>
  </clipPath>
  <clipPath id="p6971afbf80">
   <rect x="63.504" y="599.724" width="634.68" height="222.156"/>
  </clipPath>
 </defs>
</svg>

</body></html>
